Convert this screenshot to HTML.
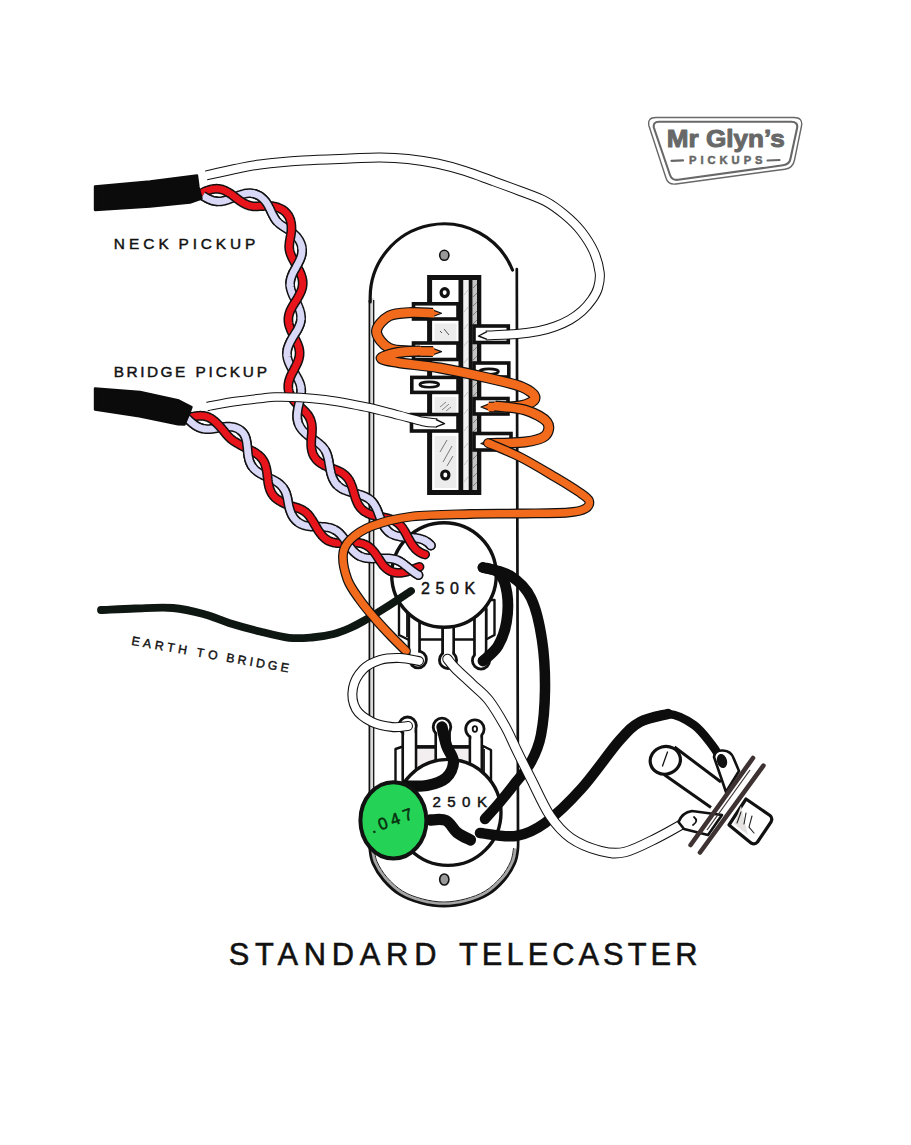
<!DOCTYPE html>
<html><head><meta charset="utf-8"><title>Standard Telecaster</title>
<style>html,body{margin:0;padding:0;background:#fff}svg{display:block}</style></head>
<body><svg width="911" height="1145" viewBox="0 0 911 1145">
<rect width="911" height="1145" fill="#fff"/>
<path d="M370.5,298 A73.5,73.5 0 0 1 511.6,268 L517,268 L518,833  C518.0,835.7 518.4,843.9 517.9,849.0 C517.4,854.1 517.0,858.2 514.7,863.4 C512.4,868.6 508.8,874.8 504.3,880.0 C499.8,885.2 493.9,890.9 487.6,894.7 C481.4,898.5 474.1,901.1 466.8,903.0 C459.5,904.9 451.5,906.2 443.8,906.2 C436.1,906.2 428.2,904.9 420.9,903.0 C413.6,901.1 406.2,898.5 400.0,894.7 C393.8,890.9 387.9,885.2 383.4,880.0 C378.9,874.8 375.2,868.6 372.9,863.4 C370.6,858.2 370.4,854.1 369.8,849.0 C369.2,843.9 369.6,835.7 369.5,833.0 Z" fill="#fff" stroke="none"/>
<rect x="369.3" y="298" width="4.4" height="536" fill="#d9d9d9"/>
<path d="M369.4,834 L369.4,300" stroke="#111" stroke-width="1.7"/>
<path d="M373.7,834 L373.7,300" stroke="#111" stroke-width="1.3"/>
<path d="M515.5,848.5 C515.0,850.8 514.6,857.4 512.4,862.4 C510.2,867.4 506.7,873.4 502.4,878.5 C498.0,883.5 492.3,889.0 486.2,892.7 C480.2,896.4 473.1,898.9 466.1,900.8 C459.0,902.6 451.2,903.9 443.8,903.9 C436.4,903.9 428.7,902.6 421.6,900.8 C414.6,898.9 407.5,896.4 401.4,892.7 C395.4,889.0 389.7,883.5 385.3,878.5 C381.0,873.4 377.4,867.4 375.2,862.4 C373.0,857.4 372.7,850.8 372.2,848.5" fill="none" stroke="#a6a6a6" stroke-width="3"/>
<path d="M513.6,848.1 C513.1,850.3 512.7,856.8 510.6,861.6 C508.5,866.5 505.1,872.4 500.8,877.3 C496.5,882.2 491.0,887.5 485.1,891.1 C479.2,894.7 472.4,897.1 465.5,898.9 C458.6,900.7 451.0,902.0 443.8,902.0 C436.6,902.0 429.1,900.7 422.2,898.9 C415.4,897.1 408.4,894.7 402.6,891.1 C396.7,887.5 391.2,882.2 386.9,877.3 C382.7,872.4 379.2,866.5 377.0,861.6 C374.9,856.8 374.6,850.3 374.1,848.1" fill="none" stroke="#222" stroke-width="1"/>
<path d="M518.0,833.0 C518.0,835.7 518.4,843.9 517.9,849.0 C517.4,854.1 517.0,858.2 514.7,863.4 C512.4,868.6 508.8,874.8 504.3,880.0 C499.8,885.2 493.9,890.9 487.6,894.7 C481.4,898.5 474.1,901.1 466.8,903.0 C459.5,904.9 451.5,906.2 443.8,906.2 C436.1,906.2 428.2,904.9 420.9,903.0 C413.6,901.1 406.2,898.5 400.0,894.7 C393.8,890.9 387.9,885.2 383.4,880.0 C378.9,874.8 375.2,868.6 372.9,863.4 C370.6,858.2 370.4,854.1 369.8,849.0 C369.2,843.9 369.6,835.7 369.5,833.0" fill="none" stroke="#111" stroke-width="2.7" stroke-linecap="round"/>
<path d="M370.2,302 L370.2,298 A73.8,73.5 0 0 1 512.5,270" fill="none" stroke="#111" stroke-width="3.2" stroke-linecap="round"/>
<path d="M516.8,269 L518,834" fill="none" stroke="#111" stroke-width="2.7" stroke-linecap="round"/>
<ellipse cx="444.3" cy="255.3" rx="4.6" ry="5" fill="#999" stroke="#111" stroke-width="1.6"/>
<ellipse cx="444.3" cy="879.5" rx="4.6" ry="5.5" fill="#999" stroke="#111" stroke-width="1.6"/>
<rect x="429.6" y="277.5" width="49.2" height="215" fill="#fff" stroke="#111" stroke-width="5"/>
<rect x="458.5" y="277" width="5" height="216" fill="#111"/>
<rect x="463.5" y="280" width="5.2" height="210" fill="#f1f1f1"/>
<rect x="468.7" y="277" width="4" height="216" fill="#111"/>
<rect x="472.7" y="280" width="4.3" height="210" fill="#c4c4c4"/>
<path d="M473,288 L477,284" stroke="#777" stroke-width="0.9"/>
<path d="M473,297 L477,293" stroke="#777" stroke-width="0.9"/>
<path d="M473,306 L477,302" stroke="#777" stroke-width="0.9"/>
<path d="M473,315 L477,311" stroke="#777" stroke-width="0.9"/>
<path d="M473,324 L477,320" stroke="#777" stroke-width="0.9"/>
<path d="M473,333 L477,329" stroke="#777" stroke-width="0.9"/>
<path d="M473,342 L477,338" stroke="#777" stroke-width="0.9"/>
<path d="M473,351 L477,347" stroke="#777" stroke-width="0.9"/>
<path d="M473,360 L477,356" stroke="#777" stroke-width="0.9"/>
<path d="M473,369 L477,365" stroke="#777" stroke-width="0.9"/>
<path d="M473,378 L477,374" stroke="#777" stroke-width="0.9"/>
<path d="M473,387 L477,383" stroke="#777" stroke-width="0.9"/>
<path d="M473,396 L477,392" stroke="#777" stroke-width="0.9"/>
<path d="M473,405 L477,401" stroke="#777" stroke-width="0.9"/>
<path d="M473,414 L477,410" stroke="#777" stroke-width="0.9"/>
<path d="M473,423 L477,419" stroke="#777" stroke-width="0.9"/>
<path d="M473,432 L477,428" stroke="#777" stroke-width="0.9"/>
<path d="M473,441 L477,437" stroke="#777" stroke-width="0.9"/>
<path d="M473,450 L477,446" stroke="#777" stroke-width="0.9"/>
<path d="M473,459 L477,455" stroke="#777" stroke-width="0.9"/>
<path d="M473,468 L477,464" stroke="#777" stroke-width="0.9"/>
<path d="M473,477 L477,473" stroke="#777" stroke-width="0.9"/>
<path d="M473,486 L477,482" stroke="#777" stroke-width="0.9"/>
<path d="M464.2,295 L467.8,290" stroke="#bbb" stroke-width="0.8"/>
<path d="M464.2,312 L467.8,307" stroke="#bbb" stroke-width="0.8"/>
<path d="M464.2,329 L467.8,324" stroke="#bbb" stroke-width="0.8"/>
<path d="M464.2,346 L467.8,341" stroke="#bbb" stroke-width="0.8"/>
<path d="M464.2,363 L467.8,358" stroke="#bbb" stroke-width="0.8"/>
<path d="M464.2,380 L467.8,375" stroke="#bbb" stroke-width="0.8"/>
<path d="M464.2,397 L467.8,392" stroke="#bbb" stroke-width="0.8"/>
<path d="M464.2,414 L467.8,409" stroke="#bbb" stroke-width="0.8"/>
<path d="M464.2,431 L467.8,426" stroke="#bbb" stroke-width="0.8"/>
<path d="M464.2,448 L467.8,443" stroke="#bbb" stroke-width="0.8"/>
<path d="M464.2,465 L467.8,460" stroke="#bbb" stroke-width="0.8"/>
<path d="M464.2,482 L467.8,477" stroke="#bbb" stroke-width="0.8"/>
<rect x="434.5" y="323.5" width="22" height="17.8" fill="#ececec"/>
<rect x="434.5" y="397.0" width="22" height="15.0" fill="#ececec"/>
<rect x="434.5" y="436.0" width="22" height="52.0" fill="#ececec"/>
<path d="M444,329 L449,335 M440,331 L442,333" stroke="#555" stroke-width="1"/>
<path d="M440,407 L446,402 M442,410 L449,404 M446,411 L451,407" stroke="#777" stroke-width="0.9"/>
<path d="M440,452 L447,440 M443,462 L452,446 M447,466 L453,456" stroke="#777" stroke-width="1"/>
<rect x="413.5" y="303.8" width="44.5" height="15.2" fill="#fff" stroke="#111" stroke-width="3.6"/>
<rect x="413.5" y="343.0" width="44.5" height="16.5" fill="#fff" stroke="#111" stroke-width="3.6"/>
<rect x="411.5" y="414.5" width="46.5" height="16.5" fill="#fff" stroke="#111" stroke-width="3.6"/>
<rect x="411.8" y="377.4" width="46.2" height="15" fill="#fff" stroke="#111" stroke-width="3.6"/>
<ellipse cx="429.3" cy="384.6" rx="9.5" ry="2.7" fill="#fff" stroke="#111" stroke-width="2.6"/>
<rect x="474" y="326.0" width="34.3" height="16.5" fill="#fff" stroke="#111" stroke-width="3.6"/>
<rect x="474" y="398.5" width="34.0" height="15.5" fill="#fff" stroke="#111" stroke-width="3.6"/>
<rect x="474" y="433.5" width="37.0" height="16.5" fill="#fff" stroke="#111" stroke-width="3.6"/>
<rect x="474" y="363" width="34.8" height="14" fill="#fff" stroke="#111" stroke-width="3.6"/>
<ellipse cx="489" cy="371.6" rx="9.5" ry="2.7" fill="#fff" stroke="#111" stroke-width="2.6"/>
<ellipse cx="444.7" cy="292.6" rx="3.6" ry="4" fill="#fff" stroke="#111" stroke-width="3.2"/>
<ellipse cx="445.3" cy="475" rx="3.6" ry="4" fill="#fff" stroke="#111" stroke-width="3.2"/>
<path d="M395.5,795 L395.5,749 L403,746.5 L484,746.5 L491,750 L491,795 Z" fill="#fff" stroke="#111" stroke-width="2.4" stroke-linejoin="round"/>
<path d="M403,748 L403,790 M484,749 L484,790" stroke="#111" stroke-width="1.8"/>
<path d="M403,747 L484,747" stroke="#111" stroke-width="3.6"/>
<rect x="405" y="749" width="77" height="30" fill="#f3eff0"/>
<rect x="402.8" y="725.6" width="13.1" height="64.4" fill="#fff" stroke="#111" stroke-width="2.8"/>
<circle cx="407.6" cy="725.6" r="8.6" fill="#fff" stroke="#111" stroke-width="2.8"/>
<rect x="404.2" y="725.6" width="10.3" height="64.4" fill="#fff"/>
<rect x="435.8" y="727.0" width="13.7" height="63.0" fill="#fff" stroke="#111" stroke-width="2.8"/>
<circle cx="442.0" cy="727.0" r="8.8" fill="#fff" stroke="#111" stroke-width="2.8"/>
<rect x="437.2" y="727.0" width="10.9" height="63.0" fill="#fff"/>
<rect x="470.0" y="729.0" width="11.7" height="61.0" fill="#fff" stroke="#111" stroke-width="2.8"/>
<circle cx="474.9" cy="729.0" r="9.2" fill="#fff" stroke="#111" stroke-width="2.8"/>
<rect x="471.4" y="729.0" width="8.9" height="61.0" fill="#fff"/>
<ellipse cx="474.9" cy="729.0" rx="2.2" ry="2.8" fill="#fff" stroke="#111" stroke-width="1.8"/>
<circle cx="448" cy="812.4" r="53" fill="#fff" stroke="#111" stroke-width="3.4"/>
<path d="M206.0,175.5 C210.8,174.4 226.0,170.8 235.0,169.0 C244.0,167.2 248.7,165.9 260.0,164.5 C271.3,163.1 288.0,161.5 303.0,160.5 C318.0,159.5 337.2,159.0 350.0,158.5 C362.8,158.0 370.3,157.4 380.0,157.5 C389.7,157.6 398.5,158.0 408.0,159.0 C417.5,160.0 427.5,161.5 437.0,163.5 C446.5,165.5 455.5,168.0 465.0,171.0 C474.5,174.0 484.8,178.1 494.0,181.4 C503.2,184.7 511.4,187.7 520.0,191.0 C528.6,194.3 538.0,197.3 545.5,201.3 C553.0,205.3 559.0,210.0 565.0,215.0 C571.0,220.0 576.4,225.1 581.2,231.3 C586.0,237.5 590.9,245.1 594.0,252.0 C597.1,258.9 599.0,266.7 599.7,272.7 C600.4,278.7 599.3,283.5 598.0,288.0 C596.7,292.5 594.5,296.0 591.8,299.8 C589.1,303.6 585.7,307.7 582.0,311.0 C578.3,314.3 574.3,317.2 569.8,319.8 C565.3,322.4 560.2,324.6 555.0,326.5 C549.8,328.4 544.7,329.9 538.4,331.2 C532.1,332.4 525.7,333.3 517.0,334.0 C508.3,334.7 491.2,335.2 486.0,335.5" fill="none" stroke="#111" stroke-width="10.0" stroke-linecap="butt" stroke-linejoin="round" />
<path d="M204.8,175.8 L206.0,175.5 C210.8,174.4 226.0,170.8 235.0,169.0 C244.0,167.2 248.7,165.9 260.0,164.5 C271.3,163.1 288.0,161.5 303.0,160.5 C318.0,159.5 337.2,159.0 350.0,158.5 C362.8,158.0 370.3,157.4 380.0,157.5 C389.7,157.6 398.5,158.0 408.0,159.0 C417.5,160.0 427.5,161.5 437.0,163.5 C446.5,165.5 455.5,168.0 465.0,171.0 C474.5,174.0 484.8,178.1 494.0,181.4 C503.2,184.7 511.4,187.7 520.0,191.0 C528.6,194.3 538.0,197.3 545.5,201.3 C553.0,205.3 559.0,210.0 565.0,215.0 C571.0,220.0 576.4,225.1 581.2,231.3 C586.0,237.5 590.9,245.1 594.0,252.0 C597.1,258.9 599.0,266.7 599.7,272.7 C600.4,278.7 599.3,283.5 598.0,288.0 C596.7,292.5 594.5,296.0 591.8,299.8 C589.1,303.6 585.7,307.7 582.0,311.0 C578.3,314.3 574.3,317.2 569.8,319.8 C565.3,322.4 560.2,324.6 555.0,326.5 C549.8,328.4 544.7,329.9 538.4,331.2 C532.1,332.4 525.7,333.3 517.0,334.0 C508.3,334.7 491.2,335.2 486.0,335.5 L484.8,335.6" fill="none" stroke="#fff" stroke-width="8.0" stroke-linecap="butt" stroke-linejoin="round" />
<path d="M431.0,309.4 L441.5,313.3 L431.0,317.2 Z" fill="#f26a1c" stroke="#111" stroke-width="1.2" stroke-linejoin="round"/>
<path d="M431.0,347.7 L441.5,351.6 L431.0,355.5 Z" fill="#f26a1c" stroke="#111" stroke-width="1.2" stroke-linejoin="round"/>
<path d="M433.0,313.3 C429.5,313.2 419.3,312.1 412.0,312.5 C404.7,312.9 394.9,312.8 389.0,316.0 C383.1,319.2 376.5,326.2 376.5,331.5 C376.5,336.8 383.1,344.8 389.0,348.0 C394.9,351.2 404.7,350.4 412.0,351.0 C419.3,351.6 429.5,351.5 433.0,351.6" fill="none" stroke="#111" stroke-width="11.0" stroke-linecap="butt" stroke-linejoin="round" />
<path d="M434.2,313.3 L433.0,313.3 C429.5,313.2 419.3,312.1 412.0,312.5 C404.7,312.9 394.9,312.8 389.0,316.0 C383.1,319.2 376.5,326.2 376.5,331.5 C376.5,336.8 383.1,344.8 389.0,348.0 C394.9,351.2 404.7,350.4 412.0,351.0 C419.3,351.6 429.5,351.5 433.0,351.6 L434.2,351.6" fill="none" stroke="#f26a1c" stroke-width="8.6" stroke-linecap="butt" stroke-linejoin="round" />
<path d="M491.0,403.1 L481.0,407.0 L491.0,410.9 Z" fill="#f26a1c" stroke="#111" stroke-width="1.2" stroke-linejoin="round"/>
<path d="M491.0,439.6 L481.0,443.5 L491.0,447.4 Z" fill="#f26a1c" stroke="#111" stroke-width="1.2" stroke-linejoin="round"/>
<path d="M420.0,351.0 C416.3,351.2 404.5,351.3 398.0,352.5 C391.5,353.7 381.0,356.3 381.0,358.0 C381.0,359.7 388.2,360.8 398.0,362.5 C407.8,364.2 425.0,365.4 440.0,368.0 C455.0,370.6 474.3,374.8 488.0,378.0 C501.7,381.2 514.2,383.7 522.0,387.0 C529.8,390.3 535.3,394.8 535.0,398.0 C534.7,401.2 527.7,404.5 520.0,406.0 C512.3,407.5 494.2,406.8 489.0,407.0" fill="none" stroke="#111" stroke-width="11.0" stroke-linecap="butt" stroke-linejoin="round" />
<path d="M421.2,350.9 L420.0,351.0 C416.3,351.2 404.5,351.3 398.0,352.5 C391.5,353.7 381.0,356.3 381.0,358.0 C381.0,359.7 388.2,360.8 398.0,362.5 C407.8,364.2 425.0,365.4 440.0,368.0 C455.0,370.6 474.3,374.8 488.0,378.0 C501.7,381.2 514.2,383.7 522.0,387.0 C529.8,390.3 535.3,394.8 535.0,398.0 C534.7,401.2 527.7,404.5 520.0,406.0 C512.3,407.5 494.2,406.8 489.0,407.0 L487.8,407.0" fill="none" stroke="#f26a1c" stroke-width="8.6" stroke-linecap="butt" stroke-linejoin="round" />
<path d="M495.0,406.0 C500.0,406.7 516.3,407.3 525.0,410.0 C533.7,412.7 543.7,417.7 547.0,422.0 C550.3,426.3 548.7,432.7 545.0,436.0 C541.3,439.3 534.3,440.8 525.0,442.0 C515.7,443.2 495.0,443.2 489.0,443.5" fill="none" stroke="#111" stroke-width="11.0" stroke-linecap="butt" stroke-linejoin="round" />
<path d="M493.8,405.8 L495.0,406.0 C500.0,406.7 516.3,407.3 525.0,410.0 C533.7,412.7 543.7,417.7 547.0,422.0 C550.3,426.3 548.7,432.7 545.0,436.0 C541.3,439.3 534.3,440.8 525.0,442.0 C515.7,443.2 495.0,443.2 489.0,443.5 L487.8,443.5" fill="none" stroke="#f26a1c" stroke-width="8.6" stroke-linecap="butt" stroke-linejoin="round" />
<path d="M399,600 L399,635 L408,639.5 L486,639.5 L494.5,635 L494.5,600 Z" fill="#fff" stroke="#111" stroke-width="2.4" stroke-linejoin="round"/>
<path d="M407,605 L407,637 M486.5,605 L486.5,637" stroke="#111" stroke-width="1.8"/>
<rect x="409.0" y="610.0" width="10.5" height="49.5" fill="#fff" stroke="#111" stroke-width="2.8"/>
<circle cx="418.0" cy="659.5" r="8.4" fill="#fff" stroke="#111" stroke-width="2.8"/>
<rect x="410.4" y="610.0" width="7.7" height="49.5" fill="#fff"/>
<ellipse cx="418.0" cy="659.5" rx="2.2" ry="2.8" fill="#fff" stroke="#111" stroke-width="1.8"/>
<rect x="442.6" y="610.0" width="11.0" height="50.0" fill="#fff" stroke="#111" stroke-width="2.8"/>
<circle cx="448.0" cy="660.0" r="8.6" fill="#fff" stroke="#111" stroke-width="2.8"/>
<rect x="444.0" y="610.0" width="8.2" height="50.0" fill="#fff"/>
<ellipse cx="448.0" cy="660.0" rx="2.2" ry="2.8" fill="#fff" stroke="#111" stroke-width="1.8"/>
<rect x="474.5" y="610.0" width="11.5" height="50.5" fill="#fff" stroke="#111" stroke-width="2.8"/>
<circle cx="481.0" cy="660.5" r="8.6" fill="#fff" stroke="#111" stroke-width="2.8"/>
<rect x="475.9" y="610.0" width="8.7" height="50.5" fill="#fff"/>
<ellipse cx="481.0" cy="660.5" rx="2.2" ry="2.8" fill="#fff" stroke="#111" stroke-width="1.8"/>
<circle cx="444" cy="575" r="52.3" fill="#fff" stroke="#111" stroke-width="3.4"/>
<path d="M101.0,610.0 C106.7,609.8 123.0,608.8 135.0,608.5 C147.0,608.2 161.3,607.0 173.0,608.0 C184.7,609.0 195.7,612.0 205.0,614.5 C214.3,617.0 219.8,620.1 229.0,622.9 C238.2,625.7 250.0,629.0 260.0,631.5 C270.0,634.0 280.3,636.8 289.0,637.8 C297.7,638.8 304.6,638.1 312.0,637.5 C319.4,636.9 327.4,635.6 333.7,634.0 C340.0,632.4 345.0,630.2 350.0,628.0 C355.0,625.8 357.8,624.3 363.6,621.0 C369.4,617.7 377.1,613.0 385.0,608.0 C392.9,603.0 406.7,593.8 411.0,591.0" fill="none" stroke="#0e1712" stroke-width="7.8" stroke-linecap="round" stroke-linejoin="round"/>
<path d="M202.9,195.7 L203.4,196.0 L203.9,196.4 L204.6,196.8 L205.3,197.2 L206.0,197.6 L206.8,198.1 L207.6,198.5 L208.5,198.9 L209.4,199.3 L210.3,199.7 L211.3,200.1 L212.3,200.5 L213.4,200.8 L214.4,201.0 L215.5,201.2 L216.6,201.3 L217.8,201.4 L218.9,201.4 L220.1,201.4 L221.2,201.3 L222.4,201.1 L223.6,200.8 L224.8,200.6 L225.9,200.2 L227.1,199.9 L228.3,199.5 L229.4,199.0 L230.6,198.6 L231.7,198.2 L232.8,197.7 L233.9,197.3 L235.0,196.9 L236.1,196.5 L237.3,196.1 L238.4,195.6 L239.5,195.2 L240.6,194.9 L241.8,194.5 L242.9,194.2 L244.0,193.9 L245.1,193.6 L246.2,193.4 L247.4,193.3 L248.5,193.2 L249.6,193.2 L250.7,193.2 L251.8,193.3 L252.9,193.5 L254.0,193.7 L255.1,194.0 L256.1,194.4 L257.2,194.8 L258.2,195.3 L259.2,195.8 L260.2,196.4 L261.1,197.1 L262.0,197.8 L262.9,198.6 L263.7,199.4 L264.5,200.3 L265.3,201.2 L266.0,202.1 L266.7,203.1 L267.3,204.1 L267.9,205.1 L268.5,206.1 L269.0,207.2 L269.6,208.2 L270.1,209.3 L270.6,210.3 L271.1,211.4 L271.5,212.4 L272.0,213.4 L272.5,214.4 L273.0,215.3 L273.5,216.2 L274.0,217.1 L274.5,218.0 L275.0,218.8 L275.6,219.6 L276.1,220.4 L276.7,221.1 L277.4,221.8 L278.0,222.4 L278.7,223.1 L279.4,223.7 L280.1,224.3 L280.9,224.9 L281.7,225.4 L282.4,225.9 L283.3,226.5 L284.1,227.0 L285.0,227.6 L285.8,228.1 L286.7,228.7 L287.6,229.2 L288.4,229.8 L289.3,230.4 L290.2,231.0 L291.1,231.6 L291.9,232.2 L292.8,232.9 L293.6,233.6 L294.4,234.4 L295.2,235.2 L296.0,236.0 L296.8,236.8 L297.5,237.7 L298.2,238.7 L298.8,239.6 L299.5,240.7 L300.0,241.7 L300.5,242.8 L301.0,244.0 L301.4,245.1 L301.7,246.3 L301.9,247.6 L302.0,248.9 L302.1,250.2 L302.1,251.1 L302.0,252.0 L301.9,253.0 L301.8,253.9 L301.6,254.8 L301.4,255.8 L301.1,256.7 L300.8,257.7 L300.4,258.7 L300.0,259.6 L299.6,260.6 L299.1,261.6 L298.6,262.6 L298.1,263.6 L297.6,264.6 L297.0,265.6 L296.4,266.6 L295.9,267.7 L295.3,268.7 L294.7,269.7 L294.2,270.7 L293.6,271.7 L293.1,272.8 L292.6,273.8 L292.2,274.8 L291.7,275.9 L291.4,276.9 L291.0,278.0 L290.7,279.0 L290.5,280.1 L290.3,281.1 L290.2,282.2 L290.1,283.2 L290.1,284.3 L290.1,285.4 L290.2,286.4 L290.4,287.5 L290.6,288.6 L290.9,289.6 L291.2,290.7 L291.5,291.7 L291.9,292.8 L292.3,293.8 L292.8,294.9 L293.2,295.9 L293.7,296.9 L294.2,297.9 L294.7,298.9 L295.3,299.9 L295.8,301.0 L296.3,302.0 L296.8,303.0 L297.3,304.0 L297.8,305.1 L298.2,306.1 L298.7,307.1 L299.1,308.2 L299.5,309.2 L299.8,310.3 L300.1,311.3 L300.4,312.3 L300.6,313.3 L300.8,314.4 L300.9,315.4 L301.0,316.4 L301.1,317.4 L301.0,318.4 L301.0,319.4 L300.8,320.4 L300.7,321.4 L300.5,322.4 L300.2,323.4 L299.9,324.4 L299.5,325.4 L299.1,326.3 L298.7,327.3 L298.2,328.3 L297.7,329.3 L297.2,330.2 L296.6,331.2 L296.0,332.2 L295.4,333.1 L294.8,334.1 L294.2,335.1 L293.6,336.0 L293.0,337.0 L292.4,338.0 L291.9,339.0 L291.3,340.0 L290.8,341.0 L290.3,341.9 L289.8,342.9 L289.3,344.0 L288.9,345.0 L288.5,346.0 L288.1,347.0 L287.8,348.0 L287.5,349.0 L287.3,350.1 L287.2,351.1 L287.0,352.1 L287.0,353.2 L287.0,354.2 L287.0,355.2 L287.1,356.3 L287.3,357.3 L287.5,358.4 L287.8,359.4 L288.1,360.5 L288.5,361.5 L288.9,362.6 L289.3,363.6 L289.8,364.6 L290.3,365.7 L290.8,366.7 L291.4,367.7 L291.9,368.7 L292.5,369.7 L293.1,370.7 L293.7,371.7 L294.3,372.7 L294.9,373.6 L295.5,374.6 L296.0,375.5 L296.6,376.5 L297.1,377.4 L297.6,378.3 L298.1,379.2 L298.5,380.1 L298.9,381.0 L299.3,381.9 L299.7,382.7 L300.0,383.6 L300.2,384.4 L300.5,385.3 L300.7,386.1 L300.9,387.1 L301.0,388.2 L301.1,389.2 L301.2,390.2 L301.2,391.2 L301.1,392.2 L301.1,393.3 L300.9,394.3 L300.8,395.3 L300.6,396.4 L300.4,397.4 L300.2,398.5 L300.0,399.5 L299.7,400.6 L299.5,401.7 L299.2,402.8 L299.0,403.9 L298.7,405.0 L298.5,406.1 L298.2,407.2 L298.0,408.3 L297.8,409.4 L297.7,410.5 L297.5,411.6 L297.4,412.7 L297.3,413.8 L297.2,414.9 L297.2,416.0 L297.2,417.1 L297.3,418.2 L297.4,419.2 L297.6,420.3 L297.8,421.3 L298.1,422.4 L298.4,423.4 L298.8,424.4 L299.2,425.3 L299.6,426.2 L300.1,427.1 L300.7,427.9 L301.2,428.7 L301.9,429.6 L302.5,430.4 L303.2,431.1 L304.0,431.9 L304.8,432.7 L305.6,433.4 L306.4,434.1 L307.3,434.9 L308.2,435.6 L309.1,436.3 L310.0,437.0 L311.0,437.6 L311.9,438.3 L312.9,439.0 L313.8,439.6 L314.8,440.3 L315.7,441.0 L316.6,441.6 L317.5,442.3 L318.4,443.0 L319.2,443.7 L320.0,444.4 L320.8,445.1 L321.6,445.8 L322.3,446.5 L323.0,447.3 L323.6,448.1 L324.2,448.9 L324.8,449.7 L325.3,450.5 L325.8,451.4 L326.2,452.3 L326.6,453.2 L327.0,454.2 L327.3,455.2 L327.6,456.2 L327.9,457.2 L328.1,458.2 L328.4,459.2 L328.6,460.2 L328.8,461.2 L328.9,462.2 L329.1,463.3 L329.3,464.4 L329.5,465.4 L329.7,466.5 L329.9,467.7 L330.1,468.8 L330.3,469.9 L330.5,471.0 L330.8,472.1 L331.0,473.2 L331.3,474.3 L331.7,475.4 L332.0,476.4 L332.4,477.5 L332.8,478.5 L333.3,479.5 L333.8,480.4 L334.3,481.3 L334.8,482.2 L335.4,483.1 L336.1,483.9 L336.8,484.7 L337.5,485.4 L338.3,486.1 L339.1,486.8 L339.9,487.4 L340.8,488.0 L341.7,488.6 L342.7,489.1 L343.6,489.6 L344.6,490.0 L345.7,490.4 L346.7,490.8 L347.8,491.2 L348.9,491.5 L350.0,491.9 L351.1,492.2 L352.2,492.5 L353.3,492.8 L354.5,493.1 L355.6,493.4 L356.7,493.7 L357.8,494.0 L358.9,494.4 L360.0,494.7 L361.0,495.0 L362.1,495.4 L363.1,495.8 L364.1,496.2 L365.1,496.6 L366.0,497.1 L366.9,497.6 L367.8,498.1 L368.7,498.7 L369.5,499.3 L370.3,499.9 L371.0,500.6 L371.8,501.3 L372.4,502.1 L373.1,502.9 L373.7,503.7 L374.3,504.5 L374.8,505.4 L375.4,506.4 L375.9,507.3 L376.4,508.3 L376.8,509.3 L377.3,510.3 L377.7,511.4 L378.1,512.4 L378.5,513.5 L378.9,514.6 L379.3,515.7 L379.7,516.8 L380.2,517.9 L380.6,519.0 L381.0,520.1 L381.4,521.1 L381.9,522.2 L382.4,523.2 L382.9,524.2 L383.4,525.2 L384.0,526.2 L384.5,527.1 L385.1,528.0 L385.8,528.8 L386.5,529.6 L387.2,530.4 L388.0,531.2 L388.8,531.9 L389.7,532.6 L390.6,533.3 L391.6,533.9 L392.7,534.4 L393.8,534.9 L394.9,535.3 L396.1,535.7 L397.3,536.0 L398.5,536.3 L399.8,536.6 L401.1,536.8 L402.4,536.9 L403.7,537.1 L405.1,537.2 L406.4,537.3 L407.7,537.3 L409.1,537.4 L410.4,537.5 L411.7,537.6 L413.0,537.7 L414.2,537.8 L415.4,537.9 L416.6,538.1 L417.8,538.3 L418.9,538.5 L419.9,538.8 L421.0,539.0 L421.9,539.4 L422.9,539.7 L423.8,540.1 L424.6,540.5 L425.4,540.9 L426.1,541.4 L426.8,541.8 L427.5,542.3 L428.1,542.8 L428.7,543.2 L429.2,543.7 L429.7,544.2 L430.1,544.7 L430.5,545.1 L430.9,545.5" fill="none" stroke="#111" stroke-width="9.8" stroke-linecap="round" stroke-linejoin="round"/>
<path d="M202.9,195.7 L203.4,196.0 L203.9,196.4 L204.6,196.8 L205.3,197.2 L206.0,197.6 L206.8,198.1 L207.6,198.5 L208.5,198.9 L209.4,199.3 L210.3,199.7 L211.3,200.1 L212.3,200.5 L213.4,200.8 L214.4,201.0 L215.5,201.2 L216.6,201.3 L217.8,201.4 L218.9,201.4 L220.1,201.4 L221.2,201.3 L222.4,201.1 L223.6,200.8 L224.8,200.6 L225.9,200.2 L227.1,199.9 L228.3,199.5 L229.4,199.0 L230.6,198.6 L231.7,198.2 L232.8,197.7 L233.9,197.3 L235.0,196.9 L236.1,196.5 L237.3,196.1 L238.4,195.6 L239.5,195.2 L240.6,194.9 L241.8,194.5 L242.9,194.2 L244.0,193.9 L245.1,193.6 L246.2,193.4 L247.4,193.3 L248.5,193.2 L249.6,193.2 L250.7,193.2 L251.8,193.3 L252.9,193.5 L254.0,193.7 L255.1,194.0 L256.1,194.4 L257.2,194.8 L258.2,195.3 L259.2,195.8 L260.2,196.4 L261.1,197.1 L262.0,197.8 L262.9,198.6 L263.7,199.4 L264.5,200.3 L265.3,201.2 L266.0,202.1 L266.7,203.1 L267.3,204.1 L267.9,205.1 L268.5,206.1 L269.0,207.2 L269.6,208.2 L270.1,209.3 L270.6,210.3 L271.1,211.4 L271.5,212.4 L272.0,213.4 L272.5,214.4 L273.0,215.3 L273.5,216.2 L274.0,217.1 L274.5,218.0 L275.0,218.8 L275.6,219.6 L276.1,220.4 L276.7,221.1 L277.4,221.8 L278.0,222.4 L278.7,223.1 L279.4,223.7 L280.1,224.3 L280.9,224.9 L281.7,225.4 L282.4,225.9 L283.3,226.5 L284.1,227.0 L285.0,227.6 L285.8,228.1 L286.7,228.7 L287.6,229.2 L288.4,229.8 L289.3,230.4 L290.2,231.0 L291.1,231.6 L291.9,232.2 L292.8,232.9 L293.6,233.6 L294.4,234.4 L295.2,235.2 L296.0,236.0 L296.8,236.8 L297.5,237.7 L298.2,238.7 L298.8,239.6 L299.5,240.7 L300.0,241.7 L300.5,242.8 L301.0,244.0 L301.4,245.1 L301.7,246.3 L301.9,247.6 L302.0,248.9 L302.1,250.2 L302.1,251.1 L302.0,252.0 L301.9,253.0 L301.8,253.9 L301.6,254.8 L301.4,255.8 L301.1,256.7 L300.8,257.7 L300.4,258.7 L300.0,259.6 L299.6,260.6 L299.1,261.6 L298.6,262.6 L298.1,263.6 L297.6,264.6 L297.0,265.6 L296.4,266.6 L295.9,267.7 L295.3,268.7 L294.7,269.7 L294.2,270.7 L293.6,271.7 L293.1,272.8 L292.6,273.8 L292.2,274.8 L291.7,275.9 L291.4,276.9 L291.0,278.0 L290.7,279.0 L290.5,280.1 L290.3,281.1 L290.2,282.2 L290.1,283.2 L290.1,284.3 L290.1,285.4 L290.2,286.4 L290.4,287.5 L290.6,288.6 L290.9,289.6 L291.2,290.7 L291.5,291.7 L291.9,292.8 L292.3,293.8 L292.8,294.9 L293.2,295.9 L293.7,296.9 L294.2,297.9 L294.7,298.9 L295.3,299.9 L295.8,301.0 L296.3,302.0 L296.8,303.0 L297.3,304.0 L297.8,305.1 L298.2,306.1 L298.7,307.1 L299.1,308.2 L299.5,309.2 L299.8,310.3 L300.1,311.3 L300.4,312.3 L300.6,313.3 L300.8,314.4 L300.9,315.4 L301.0,316.4 L301.1,317.4 L301.0,318.4 L301.0,319.4 L300.8,320.4 L300.7,321.4 L300.5,322.4 L300.2,323.4 L299.9,324.4 L299.5,325.4 L299.1,326.3 L298.7,327.3 L298.2,328.3 L297.7,329.3 L297.2,330.2 L296.6,331.2 L296.0,332.2 L295.4,333.1 L294.8,334.1 L294.2,335.1 L293.6,336.0 L293.0,337.0 L292.4,338.0 L291.9,339.0 L291.3,340.0 L290.8,341.0 L290.3,341.9 L289.8,342.9 L289.3,344.0 L288.9,345.0 L288.5,346.0 L288.1,347.0 L287.8,348.0 L287.5,349.0 L287.3,350.1 L287.2,351.1 L287.0,352.1 L287.0,353.2 L287.0,354.2 L287.0,355.2 L287.1,356.3 L287.3,357.3 L287.5,358.4 L287.8,359.4 L288.1,360.5 L288.5,361.5 L288.9,362.6 L289.3,363.6 L289.8,364.6 L290.3,365.7 L290.8,366.7 L291.4,367.7 L291.9,368.7 L292.5,369.7 L293.1,370.7 L293.7,371.7 L294.3,372.7 L294.9,373.6 L295.5,374.6 L296.0,375.5 L296.6,376.5 L297.1,377.4 L297.6,378.3 L298.1,379.2 L298.5,380.1 L298.9,381.0 L299.3,381.9 L299.7,382.7 L300.0,383.6 L300.2,384.4 L300.5,385.3 L300.7,386.1 L300.9,387.1 L301.0,388.2 L301.1,389.2 L301.2,390.2 L301.2,391.2 L301.1,392.2 L301.1,393.3 L300.9,394.3 L300.8,395.3 L300.6,396.4 L300.4,397.4 L300.2,398.5 L300.0,399.5 L299.7,400.6 L299.5,401.7 L299.2,402.8 L299.0,403.9 L298.7,405.0 L298.5,406.1 L298.2,407.2 L298.0,408.3 L297.8,409.4 L297.7,410.5 L297.5,411.6 L297.4,412.7 L297.3,413.8 L297.2,414.9 L297.2,416.0 L297.2,417.1 L297.3,418.2 L297.4,419.2 L297.6,420.3 L297.8,421.3 L298.1,422.4 L298.4,423.4 L298.8,424.4 L299.2,425.3 L299.6,426.2 L300.1,427.1 L300.7,427.9 L301.2,428.7 L301.9,429.6 L302.5,430.4 L303.2,431.1 L304.0,431.9 L304.8,432.7 L305.6,433.4 L306.4,434.1 L307.3,434.9 L308.2,435.6 L309.1,436.3 L310.0,437.0 L311.0,437.6 L311.9,438.3 L312.9,439.0 L313.8,439.6 L314.8,440.3 L315.7,441.0 L316.6,441.6 L317.5,442.3 L318.4,443.0 L319.2,443.7 L320.0,444.4 L320.8,445.1 L321.6,445.8 L322.3,446.5 L323.0,447.3 L323.6,448.1 L324.2,448.9 L324.8,449.7 L325.3,450.5 L325.8,451.4 L326.2,452.3 L326.6,453.2 L327.0,454.2 L327.3,455.2 L327.6,456.2 L327.9,457.2 L328.1,458.2 L328.4,459.2 L328.6,460.2 L328.8,461.2 L328.9,462.2 L329.1,463.3 L329.3,464.4 L329.5,465.4 L329.7,466.5 L329.9,467.7 L330.1,468.8 L330.3,469.9 L330.5,471.0 L330.8,472.1 L331.0,473.2 L331.3,474.3 L331.7,475.4 L332.0,476.4 L332.4,477.5 L332.8,478.5 L333.3,479.5 L333.8,480.4 L334.3,481.3 L334.8,482.2 L335.4,483.1 L336.1,483.9 L336.8,484.7 L337.5,485.4 L338.3,486.1 L339.1,486.8 L339.9,487.4 L340.8,488.0 L341.7,488.6 L342.7,489.1 L343.6,489.6 L344.6,490.0 L345.7,490.4 L346.7,490.8 L347.8,491.2 L348.9,491.5 L350.0,491.9 L351.1,492.2 L352.2,492.5 L353.3,492.8 L354.5,493.1 L355.6,493.4 L356.7,493.7 L357.8,494.0 L358.9,494.4 L360.0,494.7 L361.0,495.0 L362.1,495.4 L363.1,495.8 L364.1,496.2 L365.1,496.6 L366.0,497.1 L366.9,497.6 L367.8,498.1 L368.7,498.7 L369.5,499.3 L370.3,499.9 L371.0,500.6 L371.8,501.3 L372.4,502.1 L373.1,502.9 L373.7,503.7 L374.3,504.5 L374.8,505.4 L375.4,506.4 L375.9,507.3 L376.4,508.3 L376.8,509.3 L377.3,510.3 L377.7,511.4 L378.1,512.4 L378.5,513.5 L378.9,514.6 L379.3,515.7 L379.7,516.8 L380.2,517.9 L380.6,519.0 L381.0,520.1 L381.4,521.1 L381.9,522.2 L382.4,523.2 L382.9,524.2 L383.4,525.2 L384.0,526.2 L384.5,527.1 L385.1,528.0 L385.8,528.8 L386.5,529.6 L387.2,530.4 L388.0,531.2 L388.8,531.9 L389.7,532.6 L390.6,533.3 L391.6,533.9 L392.7,534.4 L393.8,534.9 L394.9,535.3 L396.1,535.7 L397.3,536.0 L398.5,536.3 L399.8,536.6 L401.1,536.8 L402.4,536.9 L403.7,537.1 L405.1,537.2 L406.4,537.3 L407.7,537.3 L409.1,537.4 L410.4,537.5 L411.7,537.6 L413.0,537.7 L414.2,537.8 L415.4,537.9 L416.6,538.1 L417.8,538.3 L418.9,538.5 L419.9,538.8 L421.0,539.0 L421.9,539.4 L422.9,539.7 L423.8,540.1 L424.6,540.5 L425.4,540.9 L426.1,541.4 L426.8,541.8 L427.5,542.3 L428.1,542.8 L428.7,543.2 L429.2,543.7 L429.7,544.2 L430.1,544.7 L430.5,545.1 L430.9,545.5" fill="none" stroke="#d9d8f7" stroke-width="6.8" stroke-linecap="round" stroke-linejoin="round"/>
<path d="M203.1,192.3 L203.7,192.1 L204.3,191.8 L205.0,191.5 L205.7,191.2 L206.5,190.9 L207.3,190.6 L208.2,190.3 L209.1,190.0 L210.1,189.7 L211.1,189.4 L212.1,189.2 L213.2,189.0 L214.3,188.9 L215.4,188.8 L216.5,188.7 L217.6,188.8 L218.8,188.9 L219.9,189.1 L221.1,189.3 L222.3,189.6 L223.4,190.0 L224.6,190.5 L225.7,191.0 L226.8,191.6 L228.0,192.2 L229.0,192.8 L230.1,193.5 L231.2,194.2 L232.2,194.9 L233.1,195.7 L234.1,196.4 L235.0,197.1 L235.9,197.8 L236.9,198.6 L237.8,199.3 L238.8,200.0 L239.8,200.7 L240.8,201.4 L241.7,202.0 L242.7,202.6 L243.7,203.2 L244.7,203.7 L245.6,204.1 L246.6,204.6 L247.5,204.9 L248.5,205.3 L249.4,205.6 L250.4,205.8 L251.3,206.0 L252.3,206.2 L253.2,206.3 L254.2,206.3 L255.1,206.4 L256.1,206.4 L257.0,206.3 L258.0,206.3 L259.0,206.2 L259.9,206.2 L260.9,206.1 L261.9,206.0 L263.0,206.0 L264.0,205.9 L265.1,205.9 L266.3,205.9 L267.4,205.9 L268.6,205.9 L269.8,206.0 L271.0,206.1 L272.2,206.2 L273.4,206.4 L274.6,206.7 L275.8,206.9 L277.0,207.3 L278.2,207.6 L279.3,208.1 L280.4,208.6 L281.4,209.1 L282.5,209.7 L283.4,210.3 L284.4,211.0 L285.2,211.8 L286.0,212.6 L286.8,213.5 L287.5,214.4 L288.2,215.3 L288.7,216.3 L289.3,217.3 L289.7,218.3 L290.1,219.4 L290.5,220.4 L290.7,221.5 L291.0,222.6 L291.2,223.8 L291.3,224.9 L291.4,226.0 L291.4,227.1 L291.5,228.2 L291.4,229.3 L291.4,230.4 L291.3,231.5 L291.2,232.5 L291.0,233.6 L290.9,234.6 L290.7,235.7 L290.5,236.7 L290.3,237.7 L290.1,238.8 L290.0,239.8 L289.8,240.8 L289.6,241.8 L289.5,242.9 L289.4,243.9 L289.3,245.0 L289.2,246.0 L289.2,247.1 L289.3,248.3 L289.4,249.4 L289.6,250.6 L289.9,251.8 L290.1,252.5 L290.3,253.2 L290.6,254.0 L290.9,254.8 L291.2,255.6 L291.6,256.4 L291.9,257.3 L292.4,258.1 L292.8,259.0 L293.3,259.9 L293.8,260.8 L294.3,261.7 L294.8,262.7 L295.4,263.7 L296.0,264.6 L296.5,265.6 L297.1,266.6 L297.7,267.7 L298.2,268.7 L298.8,269.7 L299.3,270.8 L299.8,271.8 L300.3,272.9 L300.8,274.0 L301.2,275.0 L301.5,276.1 L301.9,277.2 L302.1,278.3 L302.4,279.4 L302.5,280.4 L302.7,281.5 L302.7,282.6 L302.7,283.7 L302.7,284.7 L302.5,285.8 L302.4,286.9 L302.1,287.9 L301.9,289.0 L301.5,290.0 L301.2,291.0 L300.7,292.0 L300.3,293.1 L299.8,294.1 L299.3,295.1 L298.8,296.1 L298.2,297.1 L297.7,298.0 L297.1,299.0 L296.5,300.0 L295.9,301.0 L295.3,301.9 L294.6,302.9 L294.0,303.9 L293.5,304.8 L292.9,305.8 L292.3,306.8 L291.8,307.7 L291.3,308.7 L290.8,309.7 L290.4,310.6 L290.0,311.6 L289.6,312.6 L289.3,313.6 L289.0,314.6 L288.8,315.6 L288.6,316.6 L288.5,317.6 L288.4,318.6 L288.4,319.6 L288.4,320.6 L288.5,321.6 L288.6,322.6 L288.8,323.7 L289.0,324.7 L289.3,325.7 L289.6,326.8 L290.0,327.8 L290.4,328.8 L290.8,329.9 L291.2,330.9 L291.7,331.9 L292.2,333.0 L292.7,334.0 L293.2,335.0 L293.7,336.0 L294.2,337.1 L294.8,338.1 L295.3,339.1 L295.8,340.1 L296.3,341.1 L296.7,342.1 L297.2,343.1 L297.6,344.1 L298.0,345.1 L298.4,346.2 L298.7,347.2 L299.0,348.2 L299.2,349.3 L299.4,350.3 L299.5,351.3 L299.6,352.4 L299.6,353.4 L299.5,354.4 L299.5,355.4 L299.3,356.5 L299.1,357.5 L298.9,358.5 L298.6,359.5 L298.3,360.5 L297.9,361.6 L297.5,362.6 L297.1,363.6 L296.6,364.6 L296.1,365.6 L295.6,366.6 L295.1,367.6 L294.5,368.7 L294.0,369.7 L293.4,370.7 L292.9,371.7 L292.4,372.7 L291.8,373.8 L291.4,374.8 L290.9,375.8 L290.4,376.8 L290.0,377.8 L289.7,378.9 L289.3,379.9 L289.0,380.9 L288.8,381.9 L288.6,382.9 L288.4,383.9 L288.3,384.9 L288.3,385.9 L288.3,386.9 L288.3,387.9 L288.4,389.0 L288.6,390.2 L288.9,391.3 L289.2,392.3 L289.6,393.4 L290.0,394.4 L290.5,395.4 L291.0,396.4 L291.6,397.4 L292.2,398.3 L292.9,399.2 L293.6,400.1 L294.3,401.0 L295.1,401.9 L295.8,402.7 L296.6,403.5 L297.4,404.3 L298.2,405.1 L299.1,405.9 L299.9,406.6 L300.7,407.4 L301.5,408.2 L302.3,408.9 L303.1,409.7 L303.9,410.4 L304.6,411.2 L305.4,412.0 L306.1,412.7 L306.7,413.5 L307.4,414.3 L308.0,415.2 L308.6,416.0 L309.1,416.9 L309.6,417.8 L310.0,418.7 L310.5,419.7 L310.8,420.7 L311.1,421.6 L311.3,422.5 L311.5,423.4 L311.7,424.4 L311.8,425.4 L311.9,426.4 L312.0,427.4 L312.0,428.5 L312.0,429.5 L312.0,430.6 L311.9,431.7 L311.9,432.8 L311.8,434.0 L311.7,435.1 L311.6,436.2 L311.5,437.4 L311.4,438.5 L311.3,439.7 L311.3,440.9 L311.2,442.0 L311.2,443.2 L311.2,444.4 L311.2,445.5 L311.3,446.7 L311.4,447.8 L311.6,448.9 L311.8,450.0 L312.0,451.1 L312.3,452.2 L312.6,453.2 L313.0,454.3 L313.5,455.2 L314.0,456.2 L314.6,457.1 L315.2,458.1 L315.9,458.9 L316.6,459.8 L317.4,460.6 L318.3,461.3 L319.1,462.1 L320.1,462.8 L320.9,463.4 L321.9,463.9 L322.8,464.5 L323.7,465.0 L324.7,465.5 L325.7,465.9 L326.7,466.4 L327.8,466.8 L328.8,467.2 L329.9,467.6 L330.9,468.0 L332.0,468.4 L333.0,468.8 L334.1,469.2 L335.1,469.6 L336.1,470.0 L337.2,470.5 L338.1,470.9 L339.1,471.3 L340.1,471.8 L341.0,472.3 L341.9,472.8 L342.7,473.4 L343.6,474.0 L344.3,474.6 L345.1,475.3 L345.8,475.9 L346.5,476.7 L347.2,477.4 L347.8,478.2 L348.4,479.1 L349.0,479.9 L349.5,480.8 L350.0,481.8 L350.5,482.7 L350.9,483.7 L351.3,484.7 L351.7,485.8 L352.1,486.8 L352.5,487.9 L352.8,489.0 L353.1,490.1 L353.5,491.2 L353.8,492.4 L354.1,493.5 L354.4,494.6 L354.8,495.7 L355.1,496.8 L355.4,497.9 L355.8,499.0 L356.2,500.0 L356.6,501.1 L357.1,502.1 L357.5,503.1 L358.0,504.1 L358.5,505.0 L359.1,505.9 L359.7,506.8 L360.3,507.6 L361.0,508.4 L361.7,509.1 L362.5,509.9 L363.3,510.5 L364.1,511.2 L365.0,511.8 L365.9,512.3 L366.8,512.8 L367.8,513.3 L368.8,513.8 L369.8,514.2 L370.8,514.6 L371.9,514.9 L373.0,515.2 L374.1,515.5 L375.2,515.8 L376.4,516.0 L377.5,516.3 L378.7,516.5 L379.8,516.7 L381.0,516.9 L382.1,517.1 L383.2,517.4 L384.4,517.6 L385.5,517.8 L386.6,518.1 L387.6,518.3 L388.7,518.6 L389.7,518.9 L390.7,519.2 L391.7,519.6 L392.6,520.0 L393.5,520.4 L394.5,520.8 L395.4,521.3 L396.2,521.8 L397.1,522.4 L398.0,523.1 L398.8,523.8 L399.6,524.5 L400.4,525.4 L401.1,526.2 L401.9,527.2 L402.6,528.1 L403.3,529.2 L404.0,530.2 L404.7,531.3 L405.3,532.5 L406.0,533.6 L406.6,534.8 L407.2,536.0 L407.8,537.2 L408.5,538.4 L409.1,539.5 L409.7,540.7 L410.4,541.8 L411.0,542.9 L411.7,543.9 L412.3,544.9 L413.0,545.9 L413.7,546.8 L414.4,547.6 L415.1,548.4 L415.8,549.2 L416.5,549.9 L417.3,550.5 L418.0,551.1 L418.7,551.6 L419.5,552.0 L420.2,552.5 L420.9,552.8 L421.5,553.2 L422.2,553.5 L422.8,553.7 L423.4,554.0 L424.0,554.1 L424.6,554.3 L425.1,554.5" fill="none" stroke="#111" stroke-width="9.8" stroke-linecap="round" stroke-linejoin="round"/>
<path d="M203.1,192.3 L203.7,192.1 L204.3,191.8 L205.0,191.5 L205.7,191.2 L206.5,190.9 L207.3,190.6 L208.2,190.3 L209.1,190.0 L210.1,189.7 L211.1,189.4 L212.1,189.2 L213.2,189.0 L214.3,188.9 L215.4,188.8 L216.5,188.7 L217.6,188.8 L218.8,188.9 L219.9,189.1 L221.1,189.3 L222.3,189.6 L223.4,190.0 L224.6,190.5 L225.7,191.0 L226.8,191.6 L228.0,192.2 L229.0,192.8 L230.1,193.5 L231.2,194.2 L232.2,194.9 L233.1,195.7 L234.1,196.4 L235.0,197.1 L235.9,197.8 L236.9,198.6 L237.8,199.3 L238.8,200.0 L239.8,200.7 L240.8,201.4 L241.7,202.0 L242.7,202.6 L243.7,203.2 L244.7,203.7 L245.6,204.1 L246.6,204.6 L247.5,204.9 L248.5,205.3 L249.4,205.6 L250.4,205.8 L251.3,206.0 L252.3,206.2 L253.2,206.3 L254.2,206.3 L255.1,206.4 L256.1,206.4 L257.0,206.3 L258.0,206.3 L259.0,206.2 L259.9,206.2 L260.9,206.1 L261.9,206.0 L263.0,206.0 L264.0,205.9 L265.1,205.9 L266.3,205.9 L267.4,205.9 L268.6,205.9 L269.8,206.0 L271.0,206.1 L272.2,206.2 L273.4,206.4 L274.6,206.7 L275.8,206.9 L277.0,207.3 L278.2,207.6 L279.3,208.1 L280.4,208.6 L281.4,209.1 L282.5,209.7 L283.4,210.3 L284.4,211.0 L285.2,211.8 L286.0,212.6 L286.8,213.5 L287.5,214.4 L288.2,215.3 L288.7,216.3 L289.3,217.3 L289.7,218.3 L290.1,219.4 L290.5,220.4 L290.7,221.5 L291.0,222.6 L291.2,223.8 L291.3,224.9 L291.4,226.0 L291.4,227.1 L291.5,228.2 L291.4,229.3 L291.4,230.4 L291.3,231.5 L291.2,232.5 L291.0,233.6 L290.9,234.6 L290.7,235.7 L290.5,236.7 L290.3,237.7 L290.1,238.8 L290.0,239.8 L289.8,240.8 L289.6,241.8 L289.5,242.9 L289.4,243.9 L289.3,245.0 L289.2,246.0 L289.2,247.1 L289.3,248.3 L289.4,249.4 L289.6,250.6 L289.9,251.8 L290.1,252.5 L290.3,253.2 L290.6,254.0 L290.9,254.8 L291.2,255.6 L291.6,256.4 L291.9,257.3 L292.4,258.1 L292.8,259.0 L293.3,259.9 L293.8,260.8 L294.3,261.7 L294.8,262.7 L295.4,263.7 L296.0,264.6 L296.5,265.6 L297.1,266.6 L297.7,267.7 L298.2,268.7 L298.8,269.7 L299.3,270.8 L299.8,271.8 L300.3,272.9 L300.8,274.0 L301.2,275.0 L301.5,276.1 L301.9,277.2 L302.1,278.3 L302.4,279.4 L302.5,280.4 L302.7,281.5 L302.7,282.6 L302.7,283.7 L302.7,284.7 L302.5,285.8 L302.4,286.9 L302.1,287.9 L301.9,289.0 L301.5,290.0 L301.2,291.0 L300.7,292.0 L300.3,293.1 L299.8,294.1 L299.3,295.1 L298.8,296.1 L298.2,297.1 L297.7,298.0 L297.1,299.0 L296.5,300.0 L295.9,301.0 L295.3,301.9 L294.6,302.9 L294.0,303.9 L293.5,304.8 L292.9,305.8 L292.3,306.8 L291.8,307.7 L291.3,308.7 L290.8,309.7 L290.4,310.6 L290.0,311.6 L289.6,312.6 L289.3,313.6 L289.0,314.6 L288.8,315.6 L288.6,316.6 L288.5,317.6 L288.4,318.6 L288.4,319.6 L288.4,320.6 L288.5,321.6 L288.6,322.6 L288.8,323.7 L289.0,324.7 L289.3,325.7 L289.6,326.8 L290.0,327.8 L290.4,328.8 L290.8,329.9 L291.2,330.9 L291.7,331.9 L292.2,333.0 L292.7,334.0 L293.2,335.0 L293.7,336.0 L294.2,337.1 L294.8,338.1 L295.3,339.1 L295.8,340.1 L296.3,341.1 L296.7,342.1 L297.2,343.1 L297.6,344.1 L298.0,345.1 L298.4,346.2 L298.7,347.2 L299.0,348.2 L299.2,349.3 L299.4,350.3 L299.5,351.3 L299.6,352.4 L299.6,353.4 L299.5,354.4 L299.5,355.4 L299.3,356.5 L299.1,357.5 L298.9,358.5 L298.6,359.5 L298.3,360.5 L297.9,361.6 L297.5,362.6 L297.1,363.6 L296.6,364.6 L296.1,365.6 L295.6,366.6 L295.1,367.6 L294.5,368.7 L294.0,369.7 L293.4,370.7 L292.9,371.7 L292.4,372.7 L291.8,373.8 L291.4,374.8 L290.9,375.8 L290.4,376.8 L290.0,377.8 L289.7,378.9 L289.3,379.9 L289.0,380.9 L288.8,381.9 L288.6,382.9 L288.4,383.9 L288.3,384.9 L288.3,385.9 L288.3,386.9 L288.3,387.9 L288.4,389.0 L288.6,390.2 L288.9,391.3 L289.2,392.3 L289.6,393.4 L290.0,394.4 L290.5,395.4 L291.0,396.4 L291.6,397.4 L292.2,398.3 L292.9,399.2 L293.6,400.1 L294.3,401.0 L295.1,401.9 L295.8,402.7 L296.6,403.5 L297.4,404.3 L298.2,405.1 L299.1,405.9 L299.9,406.6 L300.7,407.4 L301.5,408.2 L302.3,408.9 L303.1,409.7 L303.9,410.4 L304.6,411.2 L305.4,412.0 L306.1,412.7 L306.7,413.5 L307.4,414.3 L308.0,415.2 L308.6,416.0 L309.1,416.9 L309.6,417.8 L310.0,418.7 L310.5,419.7 L310.8,420.7 L311.1,421.6 L311.3,422.5 L311.5,423.4 L311.7,424.4 L311.8,425.4 L311.9,426.4 L312.0,427.4 L312.0,428.5 L312.0,429.5 L312.0,430.6 L311.9,431.7 L311.9,432.8 L311.8,434.0 L311.7,435.1 L311.6,436.2 L311.5,437.4 L311.4,438.5 L311.3,439.7 L311.3,440.9 L311.2,442.0 L311.2,443.2 L311.2,444.4 L311.2,445.5 L311.3,446.7 L311.4,447.8 L311.6,448.9 L311.8,450.0 L312.0,451.1 L312.3,452.2 L312.6,453.2 L313.0,454.3 L313.5,455.2 L314.0,456.2 L314.6,457.1 L315.2,458.1 L315.9,458.9 L316.6,459.8 L317.4,460.6 L318.3,461.3 L319.1,462.1 L320.1,462.8 L320.9,463.4 L321.9,463.9 L322.8,464.5 L323.7,465.0 L324.7,465.5 L325.7,465.9 L326.7,466.4 L327.8,466.8 L328.8,467.2 L329.9,467.6 L330.9,468.0 L332.0,468.4 L333.0,468.8 L334.1,469.2 L335.1,469.6 L336.1,470.0 L337.2,470.5 L338.1,470.9 L339.1,471.3 L340.1,471.8 L341.0,472.3 L341.9,472.8 L342.7,473.4 L343.6,474.0 L344.3,474.6 L345.1,475.3 L345.8,475.9 L346.5,476.7 L347.2,477.4 L347.8,478.2 L348.4,479.1 L349.0,479.9 L349.5,480.8 L350.0,481.8 L350.5,482.7 L350.9,483.7 L351.3,484.7 L351.7,485.8 L352.1,486.8 L352.5,487.9 L352.8,489.0 L353.1,490.1 L353.5,491.2 L353.8,492.4 L354.1,493.5 L354.4,494.6 L354.8,495.7 L355.1,496.8 L355.4,497.9 L355.8,499.0 L356.2,500.0 L356.6,501.1 L357.1,502.1 L357.5,503.1 L358.0,504.1 L358.5,505.0 L359.1,505.9 L359.7,506.8 L360.3,507.6 L361.0,508.4 L361.7,509.1 L362.5,509.9 L363.3,510.5 L364.1,511.2 L365.0,511.8 L365.9,512.3 L366.8,512.8 L367.8,513.3 L368.8,513.8 L369.8,514.2 L370.8,514.6 L371.9,514.9 L373.0,515.2 L374.1,515.5 L375.2,515.8 L376.4,516.0 L377.5,516.3 L378.7,516.5 L379.8,516.7 L381.0,516.9 L382.1,517.1 L383.2,517.4 L384.4,517.6 L385.5,517.8 L386.6,518.1 L387.6,518.3 L388.7,518.6 L389.7,518.9 L390.7,519.2 L391.7,519.6 L392.6,520.0 L393.5,520.4 L394.5,520.8 L395.4,521.3 L396.2,521.8 L397.1,522.4 L398.0,523.1 L398.8,523.8 L399.6,524.5 L400.4,525.4 L401.1,526.2 L401.9,527.2 L402.6,528.1 L403.3,529.2 L404.0,530.2 L404.7,531.3 L405.3,532.5 L406.0,533.6 L406.6,534.8 L407.2,536.0 L407.8,537.2 L408.5,538.4 L409.1,539.5 L409.7,540.7 L410.4,541.8 L411.0,542.9 L411.7,543.9 L412.3,544.9 L413.0,545.9 L413.7,546.8 L414.4,547.6 L415.1,548.4 L415.8,549.2 L416.5,549.9 L417.3,550.5 L418.0,551.1 L418.7,551.6 L419.5,552.0 L420.2,552.5 L420.9,552.8 L421.5,553.2 L422.2,553.5 L422.8,553.7 L423.4,554.0 L424.0,554.1 L424.6,554.3 L425.1,554.5" fill="none" stroke="#e8141c" stroke-width="6.8" stroke-linecap="round" stroke-linejoin="round"/>
<path d="M202.9,195.7 L203.4,196.0 L203.9,196.4 L204.6,196.8 L205.3,197.2 L206.0,197.6 L206.8,198.1 L207.6,198.5 L208.5,198.9 L209.4,199.3 L210.3,199.7 L211.3,200.1 L212.3,200.5 L213.4,200.8 L214.4,201.0 L215.5,201.2 L216.6,201.3 L217.8,201.4" fill="none" stroke="#111" stroke-width="9.8" stroke-linecap="butt"/>
<path d="M202.9,195.7 L203.4,196.0 L203.9,196.4 L204.6,196.8 L205.3,197.2 L206.0,197.6 L206.8,198.1 L207.6,198.5 L208.5,198.9 L209.4,199.3 L210.3,199.7 L211.3,200.1 L212.3,200.5 L213.4,200.8 L214.4,201.0 L215.5,201.2 L216.6,201.3 L217.8,201.4 L218.9,201.4 L220.1,201.4" fill="none" stroke="#d9d8f7" stroke-width="6.8" stroke-linecap="butt"/>
<path d="M254.0,193.7 L255.1,194.0 L256.1,194.4 L257.2,194.8 L258.2,195.3 L259.2,195.8 L260.2,196.4 L261.1,197.1 L262.0,197.8 L262.9,198.6 L263.7,199.4 L264.5,200.3 L265.3,201.2 L266.0,202.1 L266.7,203.1 L267.3,204.1 L267.9,205.1 L268.5,206.1 L269.0,207.2 L269.6,208.2 L270.1,209.3 L270.6,210.3 L271.1,211.4 L271.5,212.4 L272.0,213.4 L272.5,214.4 L273.0,215.3 L273.5,216.2 L274.0,217.1 L274.5,218.0 L275.0,218.8 L275.6,219.6 L276.1,220.4 L276.7,221.1 L277.4,221.8" fill="none" stroke="#111" stroke-width="9.8" stroke-linecap="butt"/>
<path d="M251.8,193.3 L252.9,193.5 L254.0,193.7 L255.1,194.0 L256.1,194.4 L257.2,194.8 L258.2,195.3 L259.2,195.8 L260.2,196.4 L261.1,197.1 L262.0,197.8 L262.9,198.6 L263.7,199.4 L264.5,200.3 L265.3,201.2 L266.0,202.1 L266.7,203.1 L267.3,204.1 L267.9,205.1 L268.5,206.1 L269.0,207.2 L269.6,208.2 L270.1,209.3 L270.6,210.3 L271.1,211.4 L271.5,212.4 L272.0,213.4 L272.5,214.4 L273.0,215.3 L273.5,216.2 L274.0,217.1 L274.5,218.0 L275.0,218.8 L275.6,219.6 L276.1,220.4 L276.7,221.1 L277.4,221.8 L278.0,222.4 L278.7,223.1" fill="none" stroke="#d9d8f7" stroke-width="6.8" stroke-linecap="butt"/>
<path d="M302.0,248.9 L302.1,250.2 L302.1,251.1 L302.0,252.0 L301.9,253.0 L301.8,253.9 L301.6,254.8 L301.4,255.8 L301.1,256.7 L300.8,257.7 L300.4,258.7 L300.0,259.6 L299.6,260.6 L299.1,261.6 L298.6,262.6 L298.1,263.6 L297.6,264.6 L297.0,265.6 L296.4,266.6 L295.9,267.7 L295.3,268.7 L294.7,269.7 L294.2,270.7 L293.6,271.7 L293.1,272.8 L292.6,273.8 L292.2,274.8 L291.7,275.9 L291.4,276.9 L291.0,278.0 L290.7,279.0 L290.5,280.1 L290.3,281.1 L290.2,282.2 L290.1,283.2 L290.1,284.3" fill="none" stroke="#111" stroke-width="9.8" stroke-linecap="butt"/>
<path d="M301.7,246.3 L301.9,247.6 L302.0,248.9 L302.1,250.2 L302.1,251.1 L302.0,252.0 L301.9,253.0 L301.8,253.9 L301.6,254.8 L301.4,255.8 L301.1,256.7 L300.8,257.7 L300.4,258.7 L300.0,259.6 L299.6,260.6 L299.1,261.6 L298.6,262.6 L298.1,263.6 L297.6,264.6 L297.0,265.6 L296.4,266.6 L295.9,267.7 L295.3,268.7 L294.7,269.7 L294.2,270.7 L293.6,271.7 L293.1,272.8 L292.6,273.8 L292.2,274.8 L291.7,275.9 L291.4,276.9 L291.0,278.0 L290.7,279.0 L290.5,280.1 L290.3,281.1 L290.2,282.2 L290.1,283.2 L290.1,284.3 L290.1,285.4 L290.2,286.4" fill="none" stroke="#d9d8f7" stroke-width="6.8" stroke-linecap="butt"/>
<path d="M301.0,319.4 L300.8,320.4 L300.7,321.4 L300.5,322.4 L300.2,323.4 L299.9,324.4 L299.5,325.4 L299.1,326.3 L298.7,327.3 L298.2,328.3 L297.7,329.3 L297.2,330.2 L296.6,331.2 L296.0,332.2 L295.4,333.1 L294.8,334.1 L294.2,335.1 L293.6,336.0 L293.0,337.0 L292.4,338.0 L291.9,339.0 L291.3,340.0 L290.8,341.0 L290.3,341.9 L289.8,342.9 L289.3,344.0 L288.9,345.0 L288.5,346.0 L288.1,347.0 L287.8,348.0 L287.5,349.0 L287.3,350.1 L287.2,351.1 L287.0,352.1 L287.0,353.2 L287.0,354.2" fill="none" stroke="#111" stroke-width="9.8" stroke-linecap="butt"/>
<path d="M301.1,317.4 L301.0,318.4 L301.0,319.4 L300.8,320.4 L300.7,321.4 L300.5,322.4 L300.2,323.4 L299.9,324.4 L299.5,325.4 L299.1,326.3 L298.7,327.3 L298.2,328.3 L297.7,329.3 L297.2,330.2 L296.6,331.2 L296.0,332.2 L295.4,333.1 L294.8,334.1 L294.2,335.1 L293.6,336.0 L293.0,337.0 L292.4,338.0 L291.9,339.0 L291.3,340.0 L290.8,341.0 L290.3,341.9 L289.8,342.9 L289.3,344.0 L288.9,345.0 L288.5,346.0 L288.1,347.0 L287.8,348.0 L287.5,349.0 L287.3,350.1 L287.2,351.1 L287.0,352.1 L287.0,353.2 L287.0,354.2 L287.0,355.2 L287.1,356.3" fill="none" stroke="#d9d8f7" stroke-width="6.8" stroke-linecap="butt"/>
<path d="M301.0,388.2 L301.1,389.2 L301.2,390.2 L301.2,391.2 L301.1,392.2 L301.1,393.3 L300.9,394.3 L300.8,395.3 L300.6,396.4 L300.4,397.4 L300.2,398.5 L300.0,399.5 L299.7,400.6 L299.5,401.7 L299.2,402.8 L299.0,403.9 L298.7,405.0 L298.5,406.1 L298.2,407.2 L298.0,408.3 L297.8,409.4 L297.7,410.5 L297.5,411.6 L297.4,412.7 L297.3,413.8 L297.2,414.9 L297.2,416.0 L297.2,417.1 L297.3,418.2 L297.4,419.2 L297.6,420.3 L297.8,421.3 L298.1,422.4 L298.4,423.4 L298.8,424.4" fill="none" stroke="#111" stroke-width="9.8" stroke-linecap="butt"/>
<path d="M300.7,386.1 L300.9,387.1 L301.0,388.2 L301.1,389.2 L301.2,390.2 L301.2,391.2 L301.1,392.2 L301.1,393.3 L300.9,394.3 L300.8,395.3 L300.6,396.4 L300.4,397.4 L300.2,398.5 L300.0,399.5 L299.7,400.6 L299.5,401.7 L299.2,402.8 L299.0,403.9 L298.7,405.0 L298.5,406.1 L298.2,407.2 L298.0,408.3 L297.8,409.4 L297.7,410.5 L297.5,411.6 L297.4,412.7 L297.3,413.8 L297.2,414.9 L297.2,416.0 L297.2,417.1 L297.3,418.2 L297.4,419.2 L297.6,420.3 L297.8,421.3 L298.1,422.4 L298.4,423.4 L298.8,424.4 L299.2,425.3 L299.6,426.2" fill="none" stroke="#d9d8f7" stroke-width="6.8" stroke-linecap="butt"/>
<path d="M325.3,450.5 L325.8,451.4 L326.2,452.3 L326.6,453.2 L327.0,454.2 L327.3,455.2 L327.6,456.2 L327.9,457.2 L328.1,458.2 L328.4,459.2 L328.6,460.2 L328.8,461.2 L328.9,462.2 L329.1,463.3 L329.3,464.4 L329.5,465.4 L329.7,466.5 L329.9,467.7 L330.1,468.8 L330.3,469.9 L330.5,471.0 L330.8,472.1 L331.0,473.2 L331.3,474.3 L331.7,475.4 L332.0,476.4 L332.4,477.5 L332.8,478.5 L333.3,479.5 L333.8,480.4 L334.3,481.3 L334.8,482.2 L335.4,483.1 L336.1,483.9 L336.8,484.7 L337.5,485.4" fill="none" stroke="#111" stroke-width="9.8" stroke-linecap="butt"/>
<path d="M324.2,448.9 L324.8,449.7 L325.3,450.5 L325.8,451.4 L326.2,452.3 L326.6,453.2 L327.0,454.2 L327.3,455.2 L327.6,456.2 L327.9,457.2 L328.1,458.2 L328.4,459.2 L328.6,460.2 L328.8,461.2 L328.9,462.2 L329.1,463.3 L329.3,464.4 L329.5,465.4 L329.7,466.5 L329.9,467.7 L330.1,468.8 L330.3,469.9 L330.5,471.0 L330.8,472.1 L331.0,473.2 L331.3,474.3 L331.7,475.4 L332.0,476.4 L332.4,477.5 L332.8,478.5 L333.3,479.5 L333.8,480.4 L334.3,481.3 L334.8,482.2 L335.4,483.1 L336.1,483.9 L336.8,484.7 L337.5,485.4 L338.3,486.1 L339.1,486.8" fill="none" stroke="#d9d8f7" stroke-width="6.8" stroke-linecap="butt"/>
<path d="M371.0,500.6 L371.8,501.3 L372.4,502.1 L373.1,502.9 L373.7,503.7 L374.3,504.5 L374.8,505.4 L375.4,506.4 L375.9,507.3 L376.4,508.3 L376.8,509.3 L377.3,510.3 L377.7,511.4 L378.1,512.4 L378.5,513.5 L378.9,514.6 L379.3,515.7 L379.7,516.8 L380.2,517.9 L380.6,519.0 L381.0,520.1 L381.4,521.1 L381.9,522.2 L382.4,523.2 L382.9,524.2 L383.4,525.2 L384.0,526.2 L384.5,527.1 L385.1,528.0 L385.8,528.8 L386.5,529.6 L387.2,530.4 L388.0,531.2 L388.8,531.9 L389.7,532.6 L390.6,533.3" fill="none" stroke="#111" stroke-width="9.8" stroke-linecap="butt"/>
<path d="M369.5,499.3 L370.3,499.9 L371.0,500.6 L371.8,501.3 L372.4,502.1 L373.1,502.9 L373.7,503.7 L374.3,504.5 L374.8,505.4 L375.4,506.4 L375.9,507.3 L376.4,508.3 L376.8,509.3 L377.3,510.3 L377.7,511.4 L378.1,512.4 L378.5,513.5 L378.9,514.6 L379.3,515.7 L379.7,516.8 L380.2,517.9 L380.6,519.0 L381.0,520.1 L381.4,521.1 L381.9,522.2 L382.4,523.2 L382.9,524.2 L383.4,525.2 L384.0,526.2 L384.5,527.1 L385.1,528.0 L385.8,528.8 L386.5,529.6 L387.2,530.4 L388.0,531.2 L388.8,531.9 L389.7,532.6 L390.6,533.3 L391.6,533.9 L392.7,534.4" fill="none" stroke="#d9d8f7" stroke-width="6.8" stroke-linecap="butt"/>
<circle cx="430.9" cy="545.5" r="4.9" fill="#111"/>
<path d="M426.1,541.4 L426.8,541.8 L427.5,542.3 L428.1,542.8 L428.7,543.2 L429.2,543.7 L429.7,544.2 L430.1,544.7 L430.5,545.1 L430.9,545.5" fill="none" stroke="#111" stroke-width="9.8" stroke-linecap="butt"/>
<path d="M424.6,540.5 L425.4,540.9 L426.1,541.4 L426.8,541.8 L427.5,542.3 L428.1,542.8 L428.7,543.2 L429.2,543.7 L429.7,544.2 L430.1,544.7 L430.5,545.1 L430.9,545.5" fill="none" stroke="#d9d8f7" stroke-width="6.8" stroke-linecap="butt"/>
<circle cx="430.9" cy="545.5" r="3.4" fill="#d9d8f7"/>
<path d="M186.1,417.5 L186.6,417.9 L187.3,418.5 L188.0,419.2 L188.8,420.0 L189.7,420.8 L190.7,421.7 L191.7,422.5 L192.7,423.4 L193.7,424.2 L194.7,425.0 L195.7,425.6 L196.7,426.2 L197.7,426.7 L198.6,427.2 L199.5,427.6 L200.5,427.9 L201.4,428.2 L202.3,428.5 L203.2,428.7 L204.2,428.8 L205.2,429.0 L206.2,429.1 L207.3,429.1 L208.5,429.1 L209.4,429.1 L210.5,429.0 L211.6,428.9 L212.7,428.8 L213.8,428.7 L215.0,428.5 L216.3,428.2 L217.5,428.0 L218.7,427.8 L220.0,427.6 L221.3,427.3 L222.5,427.1 L223.7,427.0 L224.9,426.8 L226.1,426.7 L227.2,426.7 L228.6,426.7 L229.9,426.7 L231.2,426.8 L232.4,427.0 L233.6,427.2 L234.8,427.5 L236.0,427.9 L237.1,428.4 L238.2,428.9 L239.2,429.5 L240.2,430.2 L241.1,431.0 L242.0,431.8 L242.9,432.7 L243.7,433.7 L244.3,434.8 L244.9,435.8 L245.4,436.9 L245.7,437.9 L246.0,439.0 L246.3,440.0 L246.5,441.2 L246.7,442.3 L246.9,443.6 L247.0,445.0 L247.2,445.9 L247.3,446.9 L247.4,448.0 L247.5,449.0 L247.6,450.1 L247.7,451.2 L247.8,452.4 L247.9,453.5 L248.1,454.6 L248.2,455.8 L248.4,456.9 L248.7,458.0 L248.9,459.2 L249.2,460.3 L249.6,461.4 L250.0,462.5 L250.5,463.5 L251.0,464.5 L251.4,465.4 L252.0,466.2 L252.6,467.0 L253.2,467.9 L253.9,468.6 L254.6,469.4 L255.4,470.1 L256.3,470.9 L257.2,471.6 L258.1,472.2 L259.1,472.9 L260.1,473.5 L261.1,474.1 L262.2,474.6 L263.2,475.2 L264.3,475.7 L265.4,476.2 L266.5,476.7 L267.5,477.2 L268.6,477.7 L269.6,478.2 L270.7,478.7 L271.9,479.2 L273.0,479.8 L274.0,480.4 L275.1,480.9 L276.1,481.5 L277.0,482.1 L277.9,482.7 L278.8,483.4 L279.6,484.0 L280.4,484.7 L281.1,485.4 L281.8,486.2 L282.5,486.9 L283.1,487.7 L283.7,488.6 L284.2,489.4 L284.8,490.3 L285.2,491.3 L285.7,492.3 L286.1,493.3 L286.4,494.3 L286.7,495.4 L287.0,496.4 L287.3,497.5 L287.5,498.6 L287.7,499.7 L287.9,500.8 L288.1,502.0 L288.3,503.1 L288.5,504.3 L288.7,505.4 L289.0,506.6 L289.3,507.8 L289.6,509.0 L290.0,510.1 L290.3,511.2 L290.8,512.3 L291.2,513.4 L291.7,514.4 L292.2,515.5 L292.8,516.4 L293.4,517.4 L294.1,518.3 L294.8,519.2 L295.5,520.0 L296.3,520.8 L297.2,521.5 L298.0,522.2 L298.9,522.9 L299.9,523.4 L300.9,524.0 L301.9,524.4 L303.0,524.9 L304.0,525.2 L305.1,525.5 L306.2,525.8 L307.3,526.1 L308.5,526.2 L309.7,526.4 L310.8,526.5 L312.0,526.6 L313.2,526.6 L314.4,526.7 L315.6,526.7 L316.8,526.7 L318.0,526.7 L319.2,526.7 L320.4,526.7 L321.5,526.8 L322.7,526.8 L323.8,526.9 L324.9,527.0 L325.9,527.1 L327.0,527.3 L328.1,527.5 L329.1,527.7 L330.2,527.9 L331.2,528.2 L332.1,528.6 L333.1,529.0 L334.0,529.4 L334.8,529.9 L335.7,530.4 L336.5,530.9 L337.4,531.5 L338.2,532.1 L338.9,532.8 L339.7,533.5 L340.4,534.3 L341.2,535.1 L341.9,535.9 L342.6,536.8 L343.3,537.7 L344.0,538.6 L344.6,539.5 L345.3,540.5 L346.0,541.5 L346.7,542.4 L347.3,543.4 L348.0,544.3 L348.7,545.3 L349.4,546.2 L350.1,547.2 L350.8,548.1 L351.5,549.0 L352.2,549.8 L352.9,550.7 L353.7,551.4 L354.4,552.2 L355.2,552.9 L356.0,553.6 L356.8,554.2 L357.7,554.8 L358.5,555.4 L359.4,555.9 L360.3,556.3 L361.3,556.7 L362.2,557.1 L363.2,557.4 L364.2,557.7 L365.2,557.9 L366.2,558.1 L367.3,558.2 L368.3,558.3 L369.4,558.4 L370.5,558.4 L371.6,558.5 L372.8,558.5 L373.9,558.4 L375.1,558.4 L376.3,558.4 L377.5,558.4 L378.7,558.3 L379.9,558.3 L381.1,558.3 L382.3,558.3 L383.5,558.3 L384.7,558.3 L385.8,558.3 L386.9,558.3 L388.0,558.4 L389.1,558.5 L390.1,558.6 L391.0,558.7 L391.9,558.8 L392.8,559.0 L393.8,559.2 L394.8,559.4 L395.7,559.7 L396.7,560.0 L397.5,560.4 L398.4,560.8 L399.3,561.2 L400.1,561.7 L400.9,562.2 L401.7,562.7 L402.5,563.2 L403.3,563.8 L404.1,564.4 L404.9,565.1 L405.7,565.7 L406.6,566.4 L407.6,567.2 L408.6,568.0 L409.6,568.8 L410.7,569.7 L411.7,570.5 L412.8,571.2 L413.8,572.0 L414.8,572.7 L415.7,573.3 L416.6,573.9 L417.3,574.3 L418.0,574.7 L418.5,575.1" fill="none" stroke="#111" stroke-width="9.8" stroke-linecap="round" stroke-linejoin="round"/>
<path d="M186.1,417.5 L186.6,417.9 L187.3,418.5 L188.0,419.2 L188.8,420.0 L189.7,420.8 L190.7,421.7 L191.7,422.5 L192.7,423.4 L193.7,424.2 L194.7,425.0 L195.7,425.6 L196.7,426.2 L197.7,426.7 L198.6,427.2 L199.5,427.6 L200.5,427.9 L201.4,428.2 L202.3,428.5 L203.2,428.7 L204.2,428.8 L205.2,429.0 L206.2,429.1 L207.3,429.1 L208.5,429.1 L209.4,429.1 L210.5,429.0 L211.6,428.9 L212.7,428.8 L213.8,428.7 L215.0,428.5 L216.3,428.2 L217.5,428.0 L218.7,427.8 L220.0,427.6 L221.3,427.3 L222.5,427.1 L223.7,427.0 L224.9,426.8 L226.1,426.7 L227.2,426.7 L228.6,426.7 L229.9,426.7 L231.2,426.8 L232.4,427.0 L233.6,427.2 L234.8,427.5 L236.0,427.9 L237.1,428.4 L238.2,428.9 L239.2,429.5 L240.2,430.2 L241.1,431.0 L242.0,431.8 L242.9,432.7 L243.7,433.7 L244.3,434.8 L244.9,435.8 L245.4,436.9 L245.7,437.9 L246.0,439.0 L246.3,440.0 L246.5,441.2 L246.7,442.3 L246.9,443.6 L247.0,445.0 L247.2,445.9 L247.3,446.9 L247.4,448.0 L247.5,449.0 L247.6,450.1 L247.7,451.2 L247.8,452.4 L247.9,453.5 L248.1,454.6 L248.2,455.8 L248.4,456.9 L248.7,458.0 L248.9,459.2 L249.2,460.3 L249.6,461.4 L250.0,462.5 L250.5,463.5 L251.0,464.5 L251.4,465.4 L252.0,466.2 L252.6,467.0 L253.2,467.9 L253.9,468.6 L254.6,469.4 L255.4,470.1 L256.3,470.9 L257.2,471.6 L258.1,472.2 L259.1,472.9 L260.1,473.5 L261.1,474.1 L262.2,474.6 L263.2,475.2 L264.3,475.7 L265.4,476.2 L266.5,476.7 L267.5,477.2 L268.6,477.7 L269.6,478.2 L270.7,478.7 L271.9,479.2 L273.0,479.8 L274.0,480.4 L275.1,480.9 L276.1,481.5 L277.0,482.1 L277.9,482.7 L278.8,483.4 L279.6,484.0 L280.4,484.7 L281.1,485.4 L281.8,486.2 L282.5,486.9 L283.1,487.7 L283.7,488.6 L284.2,489.4 L284.8,490.3 L285.2,491.3 L285.7,492.3 L286.1,493.3 L286.4,494.3 L286.7,495.4 L287.0,496.4 L287.3,497.5 L287.5,498.6 L287.7,499.7 L287.9,500.8 L288.1,502.0 L288.3,503.1 L288.5,504.3 L288.7,505.4 L289.0,506.6 L289.3,507.8 L289.6,509.0 L290.0,510.1 L290.3,511.2 L290.8,512.3 L291.2,513.4 L291.7,514.4 L292.2,515.5 L292.8,516.4 L293.4,517.4 L294.1,518.3 L294.8,519.2 L295.5,520.0 L296.3,520.8 L297.2,521.5 L298.0,522.2 L298.9,522.9 L299.9,523.4 L300.9,524.0 L301.9,524.4 L303.0,524.9 L304.0,525.2 L305.1,525.5 L306.2,525.8 L307.3,526.1 L308.5,526.2 L309.7,526.4 L310.8,526.5 L312.0,526.6 L313.2,526.6 L314.4,526.7 L315.6,526.7 L316.8,526.7 L318.0,526.7 L319.2,526.7 L320.4,526.7 L321.5,526.8 L322.7,526.8 L323.8,526.9 L324.9,527.0 L325.9,527.1 L327.0,527.3 L328.1,527.5 L329.1,527.7 L330.2,527.9 L331.2,528.2 L332.1,528.6 L333.1,529.0 L334.0,529.4 L334.8,529.9 L335.7,530.4 L336.5,530.9 L337.4,531.5 L338.2,532.1 L338.9,532.8 L339.7,533.5 L340.4,534.3 L341.2,535.1 L341.9,535.9 L342.6,536.8 L343.3,537.7 L344.0,538.6 L344.6,539.5 L345.3,540.5 L346.0,541.5 L346.7,542.4 L347.3,543.4 L348.0,544.3 L348.7,545.3 L349.4,546.2 L350.1,547.2 L350.8,548.1 L351.5,549.0 L352.2,549.8 L352.9,550.7 L353.7,551.4 L354.4,552.2 L355.2,552.9 L356.0,553.6 L356.8,554.2 L357.7,554.8 L358.5,555.4 L359.4,555.9 L360.3,556.3 L361.3,556.7 L362.2,557.1 L363.2,557.4 L364.2,557.7 L365.2,557.9 L366.2,558.1 L367.3,558.2 L368.3,558.3 L369.4,558.4 L370.5,558.4 L371.6,558.5 L372.8,558.5 L373.9,558.4 L375.1,558.4 L376.3,558.4 L377.5,558.4 L378.7,558.3 L379.9,558.3 L381.1,558.3 L382.3,558.3 L383.5,558.3 L384.7,558.3 L385.8,558.3 L386.9,558.3 L388.0,558.4 L389.1,558.5 L390.1,558.6 L391.0,558.7 L391.9,558.8 L392.8,559.0 L393.8,559.2 L394.8,559.4 L395.7,559.7 L396.7,560.0 L397.5,560.4 L398.4,560.8 L399.3,561.2 L400.1,561.7 L400.9,562.2 L401.7,562.7 L402.5,563.2 L403.3,563.8 L404.1,564.4 L404.9,565.1 L405.7,565.7 L406.6,566.4 L407.6,567.2 L408.6,568.0 L409.6,568.8 L410.7,569.7 L411.7,570.5 L412.8,571.2 L413.8,572.0 L414.8,572.7 L415.7,573.3 L416.6,573.9 L417.3,574.3 L418.0,574.7 L418.5,575.1" fill="none" stroke="#d9d8f7" stroke-width="6.8" stroke-linecap="round" stroke-linejoin="round"/>
<path d="M185.9,418.5 L186.5,418.4 L187.4,418.1 L188.3,417.9 L189.4,417.6 L190.6,417.3 L191.8,416.9 L193.1,416.7 L194.4,416.4 L195.7,416.2 L197.0,416.0 L198.2,415.9 L199.3,415.8 L200.3,415.7 L201.3,415.8 L202.3,415.8 L203.2,415.9 L204.2,416.0 L205.2,416.2 L206.2,416.5 L207.2,416.8 L208.3,417.2 L209.3,417.7 L210.4,418.2 L211.5,418.9 L212.4,419.5 L213.2,420.1 L214.1,420.8 L214.9,421.5 L215.8,422.3 L216.7,423.2 L217.6,424.1 L218.5,425.0 L219.4,425.9 L220.2,426.9 L221.1,427.8 L221.9,428.8 L222.7,429.7 L223.4,430.6 L224.1,431.5 L224.8,432.3 L225.5,433.3 L226.3,434.2 L227.1,435.1 L227.8,435.9 L228.6,436.7 L229.3,437.4 L230.0,438.1 L230.7,438.7 L231.4,439.3 L232.0,439.8 L232.7,440.3 L233.3,440.8 L234.0,441.2 L234.7,441.6 L235.3,442.0 L236.0,442.4 L236.6,442.7 L237.3,443.2 L238.1,443.6 L238.9,444.1 L239.7,444.6 L240.7,445.2 L241.8,445.8 L242.9,446.4 L244.2,447.0 L245.1,447.5 L246.0,447.9 L246.9,448.3 L247.9,448.8 L248.9,449.3 L249.8,449.7 L250.9,450.3 L251.9,450.8 L252.9,451.3 L253.9,451.9 L254.9,452.5 L255.9,453.1 L256.8,453.8 L257.7,454.5 L258.6,455.2 L259.5,455.9 L260.3,456.7 L261.0,457.5 L261.7,458.2 L262.3,459.0 L262.8,459.8 L263.4,460.7 L263.9,461.6 L264.4,462.5 L264.8,463.5 L265.2,464.5 L265.5,465.6 L265.9,466.7 L266.1,467.8 L266.4,468.9 L266.6,470.1 L266.8,471.3 L267.0,472.5 L267.1,473.7 L267.3,474.8 L267.4,476.0 L267.6,477.2 L267.7,478.3 L267.8,479.4 L268.0,480.7 L268.1,482.0 L268.3,483.2 L268.5,484.4 L268.8,485.5 L269.0,486.7 L269.3,487.8 L269.7,488.8 L270.0,489.9 L270.4,490.8 L270.9,491.8 L271.4,492.8 L271.9,493.7 L272.5,494.5 L273.1,495.4 L273.8,496.2 L274.5,496.9 L275.2,497.7 L276.0,498.4 L276.8,499.0 L277.7,499.6 L278.6,500.2 L279.5,500.8 L280.5,501.4 L281.4,502.0 L282.5,502.5 L283.5,503.0 L284.6,503.5 L285.6,504.0 L286.7,504.4 L287.9,504.8 L289.0,505.2 L290.1,505.6 L291.2,506.0 L292.3,506.3 L293.4,506.7 L294.5,507.0 L295.5,507.3 L296.6,507.6 L297.6,508.0 L298.6,508.3 L299.6,508.7 L300.5,509.1 L301.5,509.6 L302.4,510.0 L303.2,510.5 L304.1,511.1 L304.9,511.6 L305.7,512.2 L306.5,512.9 L307.2,513.6 L307.9,514.3 L308.6,515.1 L309.3,515.9 L310.0,516.8 L310.5,517.6 L311.1,518.5 L311.7,519.4 L312.3,520.3 L312.9,521.3 L313.5,522.2 L314.0,523.2 L314.6,524.3 L315.2,525.3 L315.8,526.3 L316.4,527.4 L317.1,528.4 L317.7,529.4 L318.3,530.4 L318.9,531.4 L319.6,532.3 L320.2,533.2 L320.9,534.1 L321.6,534.9 L322.2,535.7 L323.0,536.6 L323.8,537.4 L324.6,538.1 L325.5,538.8 L326.4,539.5 L327.2,540.0 L328.1,540.6 L329.1,541.0 L330.0,541.4 L331.0,541.8 L332.0,542.1 L333.0,542.4 L334.0,542.6 L335.0,542.8 L336.1,543.0 L337.2,543.1 L338.3,543.2 L339.4,543.2 L340.5,543.2 L341.7,543.2 L342.9,543.2 L344.0,543.1 L345.2,543.1 L346.4,543.0 L347.6,542.9 L348.7,542.8 L349.9,542.8 L351.1,542.7 L352.2,542.6 L353.4,542.6 L354.5,542.6 L355.6,542.6 L356.7,542.7 L357.8,542.8 L358.9,542.9 L360.0,543.1 L361.0,543.3 L362.0,543.5 L363.0,543.8 L364.0,544.2 L364.9,544.6 L365.8,545.0 L366.7,545.5 L367.6,546.0 L368.4,546.6 L369.3,547.2 L370.1,547.8 L370.9,548.5 L371.6,549.3 L372.4,550.1 L373.1,550.9 L373.8,551.7 L374.5,552.6 L375.2,553.5 L375.9,554.5 L376.6,555.5 L377.3,556.5 L377.9,557.5 L378.6,558.5 L379.2,559.5 L379.9,560.6 L380.6,561.6 L381.2,562.6 L381.9,563.5 L382.6,564.5 L383.3,565.4 L384.1,566.3 L384.9,567.1 L385.7,567.8 L386.5,568.6 L387.3,569.2 L388.2,569.8 L389.2,570.5 L390.3,571.0 L391.3,571.5 L392.4,571.9 L393.5,572.2 L394.5,572.5 L395.6,572.7 L396.7,572.8 L397.8,572.9 L398.8,572.9 L399.9,572.9 L401.0,572.8 L402.1,572.7 L403.2,572.5 L404.3,572.3 L405.5,572.0 L406.7,571.7 L408.0,571.3 L409.3,570.8 L410.6,570.3 L411.8,569.8 L413.0,569.3 L414.2,568.8 L415.3,568.4 L416.3,568.0 L417.3,567.6 L418.2,567.4 L418.9,567.1 L419.5,566.9" fill="none" stroke="#111" stroke-width="9.8" stroke-linecap="round" stroke-linejoin="round"/>
<path d="M185.9,418.5 L186.5,418.4 L187.4,418.1 L188.3,417.9 L189.4,417.6 L190.6,417.3 L191.8,416.9 L193.1,416.7 L194.4,416.4 L195.7,416.2 L197.0,416.0 L198.2,415.9 L199.3,415.8 L200.3,415.7 L201.3,415.8 L202.3,415.8 L203.2,415.9 L204.2,416.0 L205.2,416.2 L206.2,416.5 L207.2,416.8 L208.3,417.2 L209.3,417.7 L210.4,418.2 L211.5,418.9 L212.4,419.5 L213.2,420.1 L214.1,420.8 L214.9,421.5 L215.8,422.3 L216.7,423.2 L217.6,424.1 L218.5,425.0 L219.4,425.9 L220.2,426.9 L221.1,427.8 L221.9,428.8 L222.7,429.7 L223.4,430.6 L224.1,431.5 L224.8,432.3 L225.5,433.3 L226.3,434.2 L227.1,435.1 L227.8,435.9 L228.6,436.7 L229.3,437.4 L230.0,438.1 L230.7,438.7 L231.4,439.3 L232.0,439.8 L232.7,440.3 L233.3,440.8 L234.0,441.2 L234.7,441.6 L235.3,442.0 L236.0,442.4 L236.6,442.7 L237.3,443.2 L238.1,443.6 L238.9,444.1 L239.7,444.6 L240.7,445.2 L241.8,445.8 L242.9,446.4 L244.2,447.0 L245.1,447.5 L246.0,447.9 L246.9,448.3 L247.9,448.8 L248.9,449.3 L249.8,449.7 L250.9,450.3 L251.9,450.8 L252.9,451.3 L253.9,451.9 L254.9,452.5 L255.9,453.1 L256.8,453.8 L257.7,454.5 L258.6,455.2 L259.5,455.9 L260.3,456.7 L261.0,457.5 L261.7,458.2 L262.3,459.0 L262.8,459.8 L263.4,460.7 L263.9,461.6 L264.4,462.5 L264.8,463.5 L265.2,464.5 L265.5,465.6 L265.9,466.7 L266.1,467.8 L266.4,468.9 L266.6,470.1 L266.8,471.3 L267.0,472.5 L267.1,473.7 L267.3,474.8 L267.4,476.0 L267.6,477.2 L267.7,478.3 L267.8,479.4 L268.0,480.7 L268.1,482.0 L268.3,483.2 L268.5,484.4 L268.8,485.5 L269.0,486.7 L269.3,487.8 L269.7,488.8 L270.0,489.9 L270.4,490.8 L270.9,491.8 L271.4,492.8 L271.9,493.7 L272.5,494.5 L273.1,495.4 L273.8,496.2 L274.5,496.9 L275.2,497.7 L276.0,498.4 L276.8,499.0 L277.7,499.6 L278.6,500.2 L279.5,500.8 L280.5,501.4 L281.4,502.0 L282.5,502.5 L283.5,503.0 L284.6,503.5 L285.6,504.0 L286.7,504.4 L287.9,504.8 L289.0,505.2 L290.1,505.6 L291.2,506.0 L292.3,506.3 L293.4,506.7 L294.5,507.0 L295.5,507.3 L296.6,507.6 L297.6,508.0 L298.6,508.3 L299.6,508.7 L300.5,509.1 L301.5,509.6 L302.4,510.0 L303.2,510.5 L304.1,511.1 L304.9,511.6 L305.7,512.2 L306.5,512.9 L307.2,513.6 L307.9,514.3 L308.6,515.1 L309.3,515.9 L310.0,516.8 L310.5,517.6 L311.1,518.5 L311.7,519.4 L312.3,520.3 L312.9,521.3 L313.5,522.2 L314.0,523.2 L314.6,524.3 L315.2,525.3 L315.8,526.3 L316.4,527.4 L317.1,528.4 L317.7,529.4 L318.3,530.4 L318.9,531.4 L319.6,532.3 L320.2,533.2 L320.9,534.1 L321.6,534.9 L322.2,535.7 L323.0,536.6 L323.8,537.4 L324.6,538.1 L325.5,538.8 L326.4,539.5 L327.2,540.0 L328.1,540.6 L329.1,541.0 L330.0,541.4 L331.0,541.8 L332.0,542.1 L333.0,542.4 L334.0,542.6 L335.0,542.8 L336.1,543.0 L337.2,543.1 L338.3,543.2 L339.4,543.2 L340.5,543.2 L341.7,543.2 L342.9,543.2 L344.0,543.1 L345.2,543.1 L346.4,543.0 L347.6,542.9 L348.7,542.8 L349.9,542.8 L351.1,542.7 L352.2,542.6 L353.4,542.6 L354.5,542.6 L355.6,542.6 L356.7,542.7 L357.8,542.8 L358.9,542.9 L360.0,543.1 L361.0,543.3 L362.0,543.5 L363.0,543.8 L364.0,544.2 L364.9,544.6 L365.8,545.0 L366.7,545.5 L367.6,546.0 L368.4,546.6 L369.3,547.2 L370.1,547.8 L370.9,548.5 L371.6,549.3 L372.4,550.1 L373.1,550.9 L373.8,551.7 L374.5,552.6 L375.2,553.5 L375.9,554.5 L376.6,555.5 L377.3,556.5 L377.9,557.5 L378.6,558.5 L379.2,559.5 L379.9,560.6 L380.6,561.6 L381.2,562.6 L381.9,563.5 L382.6,564.5 L383.3,565.4 L384.1,566.3 L384.9,567.1 L385.7,567.8 L386.5,568.6 L387.3,569.2 L388.2,569.8 L389.2,570.5 L390.3,571.0 L391.3,571.5 L392.4,571.9 L393.5,572.2 L394.5,572.5 L395.6,572.7 L396.7,572.8 L397.8,572.9 L398.8,572.9 L399.9,572.9 L401.0,572.8 L402.1,572.7 L403.2,572.5 L404.3,572.3 L405.5,572.0 L406.7,571.7 L408.0,571.3 L409.3,570.8 L410.6,570.3 L411.8,569.8 L413.0,569.3 L414.2,568.8 L415.3,568.4 L416.3,568.0 L417.3,567.6 L418.2,567.4 L418.9,567.1 L419.5,566.9" fill="none" stroke="#e8141c" stroke-width="6.8" stroke-linecap="round" stroke-linejoin="round"/>
<path d="M186.1,417.5 L186.6,417.9 L187.3,418.5 L188.0,419.2 L188.8,420.0 L189.7,420.8 L190.7,421.7 L191.7,422.5 L192.7,423.4 L193.7,424.2 L194.7,425.0 L195.7,425.6 L196.7,426.2 L197.7,426.7 L198.6,427.2 L199.5,427.6 L200.5,427.9 L201.4,428.2 L202.3,428.5 L203.2,428.7" fill="none" stroke="#111" stroke-width="9.8" stroke-linecap="butt"/>
<path d="M186.1,417.5 L186.6,417.9 L187.3,418.5 L188.0,419.2 L188.8,420.0 L189.7,420.8 L190.7,421.7 L191.7,422.5 L192.7,423.4 L193.7,424.2 L194.7,425.0 L195.7,425.6 L196.7,426.2 L197.7,426.7 L198.6,427.2 L199.5,427.6 L200.5,427.9 L201.4,428.2 L202.3,428.5 L203.2,428.7 L204.2,428.8 L205.2,429.0" fill="none" stroke="#d9d8f7" stroke-width="6.8" stroke-linecap="butt"/>
<path d="M240.2,430.2 L241.1,431.0 L242.0,431.8 L242.9,432.7 L243.7,433.7 L244.3,434.8 L244.9,435.8 L245.4,436.9 L245.7,437.9 L246.0,439.0 L246.3,440.0 L246.5,441.2 L246.7,442.3 L246.9,443.6 L247.0,445.0 L247.2,445.9 L247.3,446.9 L247.4,448.0 L247.5,449.0 L247.6,450.1 L247.7,451.2 L247.8,452.4 L247.9,453.5 L248.1,454.6 L248.2,455.8 L248.4,456.9 L248.7,458.0 L248.9,459.2 L249.2,460.3 L249.6,461.4 L250.0,462.5 L250.5,463.5 L251.0,464.5 L251.4,465.4 L252.0,466.2 L252.6,467.0" fill="none" stroke="#111" stroke-width="9.8" stroke-linecap="butt"/>
<path d="M238.2,428.9 L239.2,429.5 L240.2,430.2 L241.1,431.0 L242.0,431.8 L242.9,432.7 L243.7,433.7 L244.3,434.8 L244.9,435.8 L245.4,436.9 L245.7,437.9 L246.0,439.0 L246.3,440.0 L246.5,441.2 L246.7,442.3 L246.9,443.6 L247.0,445.0 L247.2,445.9 L247.3,446.9 L247.4,448.0 L247.5,449.0 L247.6,450.1 L247.7,451.2 L247.8,452.4 L247.9,453.5 L248.1,454.6 L248.2,455.8 L248.4,456.9 L248.7,458.0 L248.9,459.2 L249.2,460.3 L249.6,461.4 L250.0,462.5 L250.5,463.5 L251.0,464.5 L251.4,465.4 L252.0,466.2 L252.6,467.0 L253.2,467.9 L253.9,468.6" fill="none" stroke="#d9d8f7" stroke-width="6.8" stroke-linecap="butt"/>
<path d="M283.1,487.7 L283.7,488.6 L284.2,489.4 L284.8,490.3 L285.2,491.3 L285.7,492.3 L286.1,493.3 L286.4,494.3 L286.7,495.4 L287.0,496.4 L287.3,497.5 L287.5,498.6 L287.7,499.7 L287.9,500.8 L288.1,502.0 L288.3,503.1 L288.5,504.3 L288.7,505.4 L289.0,506.6 L289.3,507.8 L289.6,509.0 L290.0,510.1 L290.3,511.2 L290.8,512.3 L291.2,513.4 L291.7,514.4 L292.2,515.5 L292.8,516.4 L293.4,517.4 L294.1,518.3 L294.8,519.2 L295.5,520.0 L296.3,520.8 L297.2,521.5 L298.0,522.2" fill="none" stroke="#111" stroke-width="9.8" stroke-linecap="butt"/>
<path d="M281.8,486.2 L282.5,486.9 L283.1,487.7 L283.7,488.6 L284.2,489.4 L284.8,490.3 L285.2,491.3 L285.7,492.3 L286.1,493.3 L286.4,494.3 L286.7,495.4 L287.0,496.4 L287.3,497.5 L287.5,498.6 L287.7,499.7 L287.9,500.8 L288.1,502.0 L288.3,503.1 L288.5,504.3 L288.7,505.4 L289.0,506.6 L289.3,507.8 L289.6,509.0 L290.0,510.1 L290.3,511.2 L290.8,512.3 L291.2,513.4 L291.7,514.4 L292.2,515.5 L292.8,516.4 L293.4,517.4 L294.1,518.3 L294.8,519.2 L295.5,520.0 L296.3,520.8 L297.2,521.5 L298.0,522.2 L298.9,522.9 L299.9,523.4" fill="none" stroke="#d9d8f7" stroke-width="6.8" stroke-linecap="butt"/>
<path d="M334.8,529.9 L335.7,530.4 L336.5,530.9 L337.4,531.5 L338.2,532.1 L338.9,532.8 L339.7,533.5 L340.4,534.3 L341.2,535.1 L341.9,535.9 L342.6,536.8 L343.3,537.7 L344.0,538.6 L344.6,539.5 L345.3,540.5 L346.0,541.5 L346.7,542.4 L347.3,543.4 L348.0,544.3 L348.7,545.3 L349.4,546.2 L350.1,547.2 L350.8,548.1 L351.5,549.0 L352.2,549.8 L352.9,550.7 L353.7,551.4 L354.4,552.2 L355.2,552.9 L356.0,553.6 L356.8,554.2 L357.7,554.8 L358.5,555.4 L359.4,555.9 L360.3,556.3" fill="none" stroke="#111" stroke-width="9.8" stroke-linecap="butt"/>
<path d="M333.1,529.0 L334.0,529.4 L334.8,529.9 L335.7,530.4 L336.5,530.9 L337.4,531.5 L338.2,532.1 L338.9,532.8 L339.7,533.5 L340.4,534.3 L341.2,535.1 L341.9,535.9 L342.6,536.8 L343.3,537.7 L344.0,538.6 L344.6,539.5 L345.3,540.5 L346.0,541.5 L346.7,542.4 L347.3,543.4 L348.0,544.3 L348.7,545.3 L349.4,546.2 L350.1,547.2 L350.8,548.1 L351.5,549.0 L352.2,549.8 L352.9,550.7 L353.7,551.4 L354.4,552.2 L355.2,552.9 L356.0,553.6 L356.8,554.2 L357.7,554.8 L358.5,555.4 L359.4,555.9 L360.3,556.3 L361.3,556.7 L362.2,557.1" fill="none" stroke="#d9d8f7" stroke-width="6.8" stroke-linecap="butt"/>
<circle cx="418.5" cy="575.1" r="4.9" fill="#111"/>
<path d="M396.7,560.0 L397.5,560.4 L398.4,560.8 L399.3,561.2 L400.1,561.7 L400.9,562.2 L401.7,562.7 L402.5,563.2 L403.3,563.8 L404.1,564.4 L404.9,565.1 L405.7,565.7 L406.6,566.4 L407.6,567.2 L408.6,568.0 L409.6,568.8 L410.7,569.7 L411.7,570.5 L412.8,571.2 L413.8,572.0 L414.8,572.7 L415.7,573.3 L416.6,573.9 L417.3,574.3 L418.0,574.7 L418.5,575.1" fill="none" stroke="#111" stroke-width="9.8" stroke-linecap="butt"/>
<path d="M394.8,559.4 L395.7,559.7 L396.7,560.0 L397.5,560.4 L398.4,560.8 L399.3,561.2 L400.1,561.7 L400.9,562.2 L401.7,562.7 L402.5,563.2 L403.3,563.8 L404.1,564.4 L404.9,565.1 L405.7,565.7 L406.6,566.4 L407.6,567.2 L408.6,568.0 L409.6,568.8 L410.7,569.7 L411.7,570.5 L412.8,571.2 L413.8,572.0 L414.8,572.7 L415.7,573.3 L416.6,573.9 L417.3,574.3 L418.0,574.7 L418.5,575.1" fill="none" stroke="#d9d8f7" stroke-width="6.8" stroke-linecap="butt"/>
<circle cx="418.5" cy="575.1" r="3.4" fill="#d9d8f7"/>
<path d="M207.0,406.5 C211.7,405.7 226.2,402.8 235.0,401.5 C243.8,400.2 253.3,399.2 260.0,398.5 C266.7,397.8 268.3,397.2 275.0,397.0 C281.7,396.8 291.7,397.0 300.0,397.5 C308.3,398.0 317.0,398.8 325.0,399.8 C333.0,400.8 340.4,402.1 348.0,403.5 C355.6,404.9 362.4,406.1 370.7,408.0 C379.0,409.9 389.3,412.8 398.0,415.0 C406.7,417.2 416.5,420.2 423.0,421.5 C429.5,422.8 434.7,422.8 437.0,423.0" fill="none" stroke="#111" stroke-width="9.5" stroke-linecap="butt" stroke-linejoin="round" />
<path d="M205.8,406.7 L207.0,406.5 C211.7,405.7 226.2,402.8 235.0,401.5 C243.8,400.2 253.3,399.2 260.0,398.5 C266.7,397.8 268.3,397.2 275.0,397.0 C281.7,396.8 291.7,397.0 300.0,397.5 C308.3,398.0 317.0,398.8 325.0,399.8 C333.0,400.8 340.4,402.1 348.0,403.5 C355.6,404.9 362.4,406.1 370.7,408.0 C379.0,409.9 389.3,412.8 398.0,415.0 C406.7,417.2 416.5,420.2 423.0,421.5 C429.5,422.8 434.7,422.8 437.0,423.0 L438.2,423.1" fill="none" stroke="#fff" stroke-width="7.5" stroke-linecap="butt" stroke-linejoin="round" />
<path d="M487,331.6 L478.5,336 L487,339.4" fill="#fff" stroke="#111" stroke-width="1.4" stroke-linejoin="round"/>
<path d="M436,419.5 L444.5,423.6 L436,426.8" fill="#fff" stroke="#111" stroke-width="1.4" stroke-linejoin="round"/>
<path d="M488.0,443.0 C493.3,445.3 508.8,451.3 520.0,457.0 C531.2,462.7 545.2,471.2 555.0,477.0 C564.8,482.8 573.3,488.1 579.0,492.0 C584.7,495.9 587.9,497.8 589.0,500.5 C590.1,503.2 589.0,506.5 585.5,508.5 C582.0,510.5 578.9,511.7 568.0,512.5 C557.1,513.3 536.3,513.2 520.0,513.5 C503.7,513.8 488.0,513.5 470.0,514.0 C452.0,514.5 428.3,514.5 412.0,516.5 C395.7,518.5 382.3,522.1 372.0,526.0 C361.7,529.9 354.8,535.2 350.0,540.0 C345.2,544.8 343.4,548.4 343.0,555.0 C342.6,561.6 344.8,572.1 347.5,579.5 C350.2,586.9 354.9,592.7 359.5,599.3 C364.1,605.9 370.1,612.9 375.3,619.0 C380.6,625.1 385.9,630.7 391.0,636.0 C396.1,641.3 403.5,648.5 406.0,651.0" fill="none" stroke="#111" stroke-width="9.8" stroke-linecap="round" stroke-linejoin="round" />
<path d="M488.0,443.0 C493.3,445.3 508.8,451.3 520.0,457.0 C531.2,462.7 545.2,471.2 555.0,477.0 C564.8,482.8 573.3,488.1 579.0,492.0 C584.7,495.9 587.9,497.8 589.0,500.5 C590.1,503.2 589.0,506.5 585.5,508.5 C582.0,510.5 578.9,511.7 568.0,512.5 C557.1,513.3 536.3,513.2 520.0,513.5 C503.7,513.8 488.0,513.5 470.0,514.0 C452.0,514.5 428.3,514.5 412.0,516.5 C395.7,518.5 382.3,522.1 372.0,526.0 C361.7,529.9 354.8,535.2 350.0,540.0 C345.2,544.8 343.4,548.4 343.0,555.0 C342.6,561.6 344.8,572.1 347.5,579.5 C350.2,586.9 354.9,592.7 359.5,599.3 C364.1,605.9 370.1,612.9 375.3,619.0 C380.6,625.1 385.9,630.7 391.0,636.0 C396.1,641.3 403.5,648.5 406.0,651.0" fill="none" stroke="#f26a1c" stroke-width="7.4" stroke-linecap="round" stroke-linejoin="round" />
<path d="M95,186.5 L150,181.5 L197,175.5 L198.5,187 L201.5,198.5 L190,202.5 L150,206.5 L95,210 Z" fill="#0b0b0b" stroke="#0b0b0b" stroke-width="2.4" stroke-linejoin="round"/>
<path d="M95,388.5 L140,392 L178.8,400.5 L191.5,407 L189,414 L184.5,424.5 L178,424.3 L139.3,416.4 L95,409.5 Z" fill="#0b0b0b" stroke="#0b0b0b" stroke-width="2.4" stroke-linejoin="round"/>
<path d="M419.0,661.0 C415.8,660.5 406.5,658.2 400.0,658.0 C393.5,657.8 386.2,658.1 380.0,660.0 C373.8,661.9 367.5,664.8 363.0,669.5 C358.5,674.2 354.2,681.4 353.0,688.0 C351.8,694.6 352.8,703.3 356.0,709.0 C359.2,714.7 366.0,719.0 372.0,722.0 C378.0,725.0 386.0,726.3 392.0,727.0 C398.0,727.7 405.3,726.2 408.0,726.0" fill="none" stroke="#111" stroke-width="10.0" stroke-linecap="round" stroke-linejoin="round" />
<path d="M419.0,661.0 C415.8,660.5 406.5,658.2 400.0,658.0 C393.5,657.8 386.2,658.1 380.0,660.0 C373.8,661.9 367.5,664.8 363.0,669.5 C358.5,674.2 354.2,681.4 353.0,688.0 C351.8,694.6 352.8,703.3 356.0,709.0 C359.2,714.7 366.0,719.0 372.0,722.0 C378.0,725.0 386.0,726.3 392.0,727.0 C398.0,727.7 405.3,726.2 408.0,726.0" fill="none" stroke="#fff" stroke-width="7.8" stroke-linecap="round" stroke-linejoin="round" />
<path d="M483.0,567.5 C485.7,568.4 495.0,568.8 499.0,573.0 C503.0,577.2 505.8,584.8 507.0,593.0 C508.2,601.2 508.0,613.2 506.5,622.0 C505.0,630.8 501.9,639.5 498.0,646.0 C494.1,652.5 485.5,658.5 483.0,661.0" fill="none" stroke="#0d0d0d" stroke-width="10.8" stroke-linecap="round" stroke-linejoin="round"/>
<path d="M483.0,567.5 C487.5,568.8 502.0,570.4 510.0,575.5 C518.0,580.6 525.7,587.2 531.0,598.0 C536.3,608.8 539.7,624.7 542.0,640.0 C544.3,655.3 545.2,674.2 545.0,690.0 C544.8,705.8 543.3,723.0 541.0,735.0 C538.7,747.0 535.2,754.2 531.0,762.0 C526.8,769.8 521.2,775.3 516.0,782.0 C510.8,788.7 505.2,795.8 500.0,802.0 C494.8,808.2 487.5,816.2 485.0,819.0" fill="none" stroke="#0d0d0d" stroke-width="10.5" stroke-linecap="round" stroke-linejoin="round"/>
<path d="M442.0,727.0 C442.8,730.2 444.8,740.2 446.7,746.0 C448.6,751.8 453.6,756.7 453.5,762.0 C453.4,767.3 450.4,774.1 446.0,778.0 C441.6,781.9 433.7,784.2 427.0,785.5 C420.3,786.8 409.5,785.9 406.0,786.0" fill="none" stroke="#0d0d0d" stroke-width="11.3" stroke-linecap="round" stroke-linejoin="round"/>
<path d="M430.0,820.0 C432.7,820.1 441.5,818.4 446.0,820.5 C450.5,822.6 452.9,829.2 457.0,832.5 C461.1,835.8 468.2,838.8 470.5,840.0" fill="none" stroke="#0d0d0d" stroke-width="11.3" stroke-linecap="round" stroke-linejoin="round"/>
<path d="M480.0,833.0 C486.0,833.5 505.2,837.7 516.0,836.0 C526.8,834.3 534.0,831.0 545.0,823.0 C556.0,815.0 569.7,801.7 582.0,788.0 C594.3,774.3 609.3,752.0 619.0,741.0 C628.7,730.0 631.8,726.5 640.0,722.0 C648.2,717.5 663.3,715.3 668.0,714.0" fill="none" stroke="#0d0d0d" stroke-width="10.5" stroke-linecap="round" stroke-linejoin="round"/>
<path d="M640.0,722.0 C644.7,720.7 659.0,713.5 668.0,714.0 C677.0,714.5 686.7,719.8 694.0,725.0 C701.3,730.2 707.5,739.3 712.0,745.0 C716.5,750.7 719.5,756.7 721.0,759.0" fill="none" stroke="#0d0d0d" stroke-width="8.6" stroke-linecap="round" stroke-linejoin="round"/>
<path d="M447.5,659.0 C448.8,660.5 450.9,663.8 455.0,668.0 C459.1,672.2 466.4,678.7 472.0,684.0 C477.6,689.3 483.1,693.0 488.6,700.0 C494.1,707.0 500.3,717.7 505.0,726.0 C509.7,734.3 512.2,741.0 516.6,750.0 C521.0,759.0 525.9,769.0 531.5,780.0 C537.1,791.0 543.5,806.0 550.0,815.7 C556.5,825.4 562.3,832.1 570.7,838.0 C579.1,843.9 591.6,848.7 600.6,851.0 C609.6,853.3 615.6,854.2 625.0,852.0 C634.4,849.8 646.8,843.0 657.0,838.0 C667.2,833.0 681.2,824.7 686.0,822.0" fill="none" stroke="#111" stroke-width="10.5" stroke-linecap="round" stroke-linejoin="round" />
<path d="M447.5,659.0 C448.8,660.5 450.9,663.8 455.0,668.0 C459.1,672.2 466.4,678.7 472.0,684.0 C477.6,689.3 483.1,693.0 488.6,700.0 C494.1,707.0 500.3,717.7 505.0,726.0 C509.7,734.3 512.2,741.0 516.6,750.0 C521.0,759.0 525.9,769.0 531.5,780.0 C537.1,791.0 543.5,806.0 550.0,815.7 C556.5,825.4 562.3,832.1 570.7,838.0 C579.1,843.9 591.6,848.7 600.6,851.0 C609.6,853.3 615.6,854.2 625.0,852.0 C634.4,849.8 646.8,843.0 657.0,838.0 C667.2,833.0 681.2,824.7 686.0,822.0" fill="none" stroke="#fff" stroke-width="8.5" stroke-linecap="round" stroke-linejoin="round" />
<ellipse cx="393.4" cy="820.4" rx="33" ry="38.2" fill="#24d355" stroke="#111" stroke-width="4"/>
<path d="M674,747 L721,782 L711,807.5 L662,774 Z" fill="#fff" stroke="none"/>
<path d="M674.5,747 L721,782 M664,774.5 L711,807.5" fill="none" stroke="#111" stroke-width="3"/>
<ellipse cx="665.3" cy="760.3" rx="15.2" ry="13.8" transform="rotate(-15 665.3 760.3)" fill="#fff" stroke="#111" stroke-width="3.2"/>
<path d="M667.5,752 L662.5,766" stroke="#111" stroke-width="1.3" stroke-linecap="round"/>
<path d="M746,799 L770,815.5 Q773,818 771,822 L757.5,842 Q755,845 751,843 L729,825 Z" fill="#fff" stroke="#111" stroke-width="3.2" stroke-linejoin="round"/>
<path d="M741,806 L734,824 L748,835 Z" fill="#e6e2e2" stroke="none"/>
<path d="M741,812 L737,823 M746,813 L744,824 M752,816 L749,827 L754,833" fill="none" stroke="#222" stroke-width="1.1" stroke-linecap="round"/>
<path d="M714,757 Q715,750 723,750.5 Q731,751 733.5,758 L739,771 L726,792 Z" fill="#fff" stroke="#111" stroke-width="2.6" stroke-linejoin="round"/>
<ellipse cx="722" cy="761" rx="5" ry="7.2" transform="rotate(-15 722 761)" fill="#111"/>
<path d="M678.5,822 Q682,812.5 692,811 L722,815 L708,835 L684,829 Z" fill="#fff" stroke="#111" stroke-width="2.6" stroke-linejoin="round"/>
<path d="M694,817 Q699,821 693,825" fill="none" stroke="#111" stroke-width="1.8" stroke-linecap="round"/>
<path d="M753,758 L690.6,845" stroke="#3e3232" stroke-width="4.6" stroke-linecap="round"/>
<path d="M763.4,765.7 L700,852.5" stroke="#3e3232" stroke-width="4.6" stroke-linecap="round"/>
<path d="M750,770 L707,830" stroke="#3e3232" stroke-width="1.2"/>
<path d="M656,117.5 L794,117.5 Q803,117.5 801.5,126 L794.5,160 Q793,168 785,169.2 L676,184 Q668,185 666,178 L649,126 Q647,117.5 656,117.5 Z" fill="#fff" stroke="#686868" stroke-width="1.4"/>
<path d="M659,121.8 L791,121.8 Q798.5,121.8 797,128.5 L790.5,158.5 Q789.5,164.5 783,165.3 L678,179.8 Q672,180.5 670,175 L654,128 Q652.5,121.8 659,121.8 Z" fill="none" stroke="#686868" stroke-width="2.1"/>
<text x="725.8" y="147.2" text-anchor="middle" font-family="Liberation Sans, sans-serif" font-weight="bold" font-size="24.5" fill="#686868" stroke="#686868" stroke-width="1.0" stroke-linejoin="round" textLength="118" lengthAdjust="spacingAndGlyphs">Mr Glyn’s</text>
<text x="725.8" y="164.3" text-anchor="middle" font-family="Liberation Sans, sans-serif" font-weight="bold" font-size="11.2" fill="#686868" stroke="#686868" stroke-width="0.5" textLength="73.5" lengthAdjust="spacing">PICKUPS</text>
<path d="M671.5,160.8 L683,160.4 M767.5,160.5 L779.5,160" stroke="#686868" stroke-width="2.2" stroke-linecap="round"/>
<text x="113.8" y="249.2" font-family="Liberation Sans, sans-serif" fill="#111" stroke="#111" stroke-width="0.45" font-size="15.4" textLength="55.0" lengthAdjust="spacing" >NECK</text>
<text x="178.6" y="249.2" font-family="Liberation Sans, sans-serif" fill="#111" stroke="#111" stroke-width="0.45" font-size="15.4" textLength="76.6" lengthAdjust="spacing" >PICKUP</text>
<text x="113.8" y="376.9" font-family="Liberation Sans, sans-serif" fill="#111" stroke="#111" stroke-width="0.45" font-size="15.4" textLength="71.5" lengthAdjust="spacing" >BRIDGE</text>
<text x="195.4" y="376.9" font-family="Liberation Sans, sans-serif" fill="#111" stroke="#111" stroke-width="0.45" font-size="15.4" textLength="71.6" lengthAdjust="spacing" >PICKUP</text>
<text x="421.0" y="593.8" font-family="Liberation Sans, sans-serif" fill="#111" stroke="#111" stroke-width="0.45" font-size="16.0" textLength="54.2" lengthAdjust="spacing" >250K</text>
<text x="432.5" y="807.0" font-family="Liberation Sans, sans-serif" fill="#111" stroke="#111" stroke-width="0.45" font-size="15.1" textLength="54.5" lengthAdjust="spacing" >250K</text>
<g transform="translate(130.9,644.8) rotate(10)"><text x="0.0" y="0.0" font-family="Liberation Sans, sans-serif" fill="#111" stroke="#111" stroke-width="0.42" font-size="12.3" textLength="56.2" lengthAdjust="spacing" >EARTH</text>
<text x="66.2" y="0.0" font-family="Liberation Sans, sans-serif" fill="#111" stroke="#111" stroke-width="0.42" font-size="12.3" textLength="21.1" lengthAdjust="spacing" >TO</text>
<text x="96.3" y="0.0" font-family="Liberation Sans, sans-serif" fill="#111" stroke="#111" stroke-width="0.42" font-size="12.3" textLength="63.2" lengthAdjust="spacing" >BRIDGE</text>
</g>
<g transform="translate(372.5,833.5) rotate(-20)"><text x="0.0" y="0.0" font-family="Liberation Sans, sans-serif" fill="#08300f" stroke="#08300f" stroke-width="0.55" font-size="16.5" textLength="44.0" lengthAdjust="spacing" >.047</text>
</g>
<text x="228.8" y="965.1" font-family="Liberation Sans, sans-serif" fill="#111" stroke="#111" stroke-width="0.55" font-size="30.8" textLength="207.6" lengthAdjust="spacing" >STANDARD</text>
<text x="459.0" y="965.1" font-family="Liberation Sans, sans-serif" fill="#111" stroke="#111" stroke-width="0.55" font-size="30.8" textLength="238.4" lengthAdjust="spacing" >TELECASTER</text>
</svg></body></html>
